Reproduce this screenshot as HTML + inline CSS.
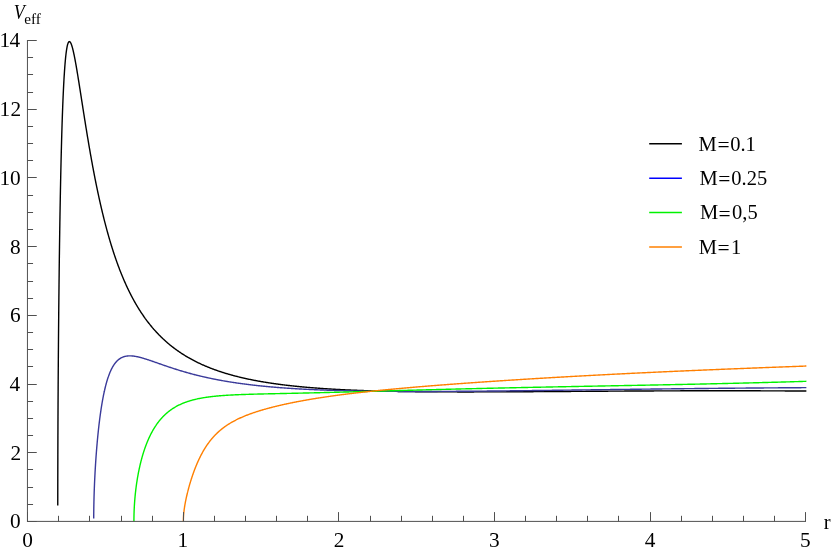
<!DOCTYPE html>
<html><head><meta charset="utf-8"><title>Veff</title>
<style>html,body{margin:0;padding:0;background:#fff}svg{display:block;will-change:transform}text{font-family:"Liberation Serif",serif;fill:#000}</style></head>
<body>
<svg width="831" height="552" viewBox="0 0 831 552">
<rect width="831" height="552" fill="#fff"/>
<text x="22.27" y="547.40" font-size="21.3">0</text>
<text x="177.62" y="547.40" font-size="21.3">1</text>
<text x="333.66" y="547.40" font-size="21.3">2</text>
<text x="489.01" y="547.40" font-size="21.3">3</text>
<text x="644.67" y="547.40" font-size="21.3">4</text>
<text x="800.08" y="547.40" font-size="21.3">5</text>
<text x="10.07" y="528.40" font-size="21.3">0</text>
<text x="10.45" y="459.69" font-size="21.3">2</text>
<text x="9.57" y="390.97" font-size="21.3">4</text>
<text x="9.95" y="322.26" font-size="21.3">6</text>
<text x="10.07" y="253.54" font-size="21.3">8</text>
<text x="10.07" y="184.83" font-size="21.3">0</text>
<text x="-0.55" y="184.83" font-size="21.3">1</text>
<text x="10.45" y="116.12" font-size="21.3">2</text>
<text x="-0.55" y="116.12" font-size="21.3">1</text>
<text x="9.57" y="47.40" font-size="21.3">4</text>
<text x="-0.55" y="47.40" font-size="21.3">1</text>
<text transform="translate(13.75,18.5) scale(0.9,1)" font-size="20" font-style="italic">V</text>
<text transform="translate(24.3,23.75) scale(1.04,1)" font-size="14.6">eff</text>
<text x="823.8" y="528.6" font-size="20.5">r</text>
<path d="M57.76,505.49 L57.76,504.16 L57.76,501.42 L57.77,498.64 L57.77,495.83 L57.77,493.00 L57.78,490.13 L57.78,487.25 L57.78,484.34 L57.79,481.41 L57.79,478.47 L57.80,475.50 L57.81,472.52 L57.81,469.52 L57.82,466.51 L57.83,463.49 L57.84,460.45 L57.84,457.39 L57.85,454.33 L57.86,451.25 L57.87,448.16 L57.88,445.06 L57.89,441.96 L57.90,438.84 L57.91,435.71 L57.93,432.57 L57.94,429.43 L57.95,426.27 L57.96,423.11 L57.98,419.95 L57.99,416.77 L58.01,413.59 L58.02,410.40 L58.04,407.21 L58.05,404.01 L58.07,400.80 L58.09,397.59 L58.11,394.38 L58.13,391.16 L58.14,387.94 L58.16,384.71 L58.18,381.48 L58.20,378.25 L58.22,375.01 L58.25,371.78 L58.27,368.53 L58.29,365.29 L58.31,362.05 L58.34,358.80 L58.36,355.56 L58.38,352.31 L58.41,349.06 L58.44,345.81 L58.46,342.57 L58.49,339.32 L58.51,336.07 L58.54,332.83 L58.57,329.58 L58.60,326.34 L58.63,323.10 L58.66,319.87 L58.69,316.63 L58.72,313.40 L58.75,310.17 L58.78,306.95 L58.82,303.73 L58.85,300.51 L58.88,297.30 L58.92,294.10 L58.95,290.90 L58.99,287.70 L59.02,284.52 L59.06,281.34 L59.10,278.16 L59.14,274.99 L59.17,271.84 L59.21,268.68 L59.25,265.54 L59.29,262.41 L59.33,259.28 L59.37,256.17 L59.42,253.06 L59.46,249.97 L59.50,246.89 L59.54,243.81 L59.59,240.75 L59.63,237.70 L59.68,234.66 L59.72,231.64 L59.77,228.63 L59.82,225.63 L59.86,222.65 L59.91,219.67 L59.96,216.72 L60.01,213.78 L60.06,210.85 L60.11,207.94 L60.16,205.05 L60.21,202.17 L60.27,199.31 L60.32,196.47 L60.37,193.64 L60.43,190.83 L60.48,188.04 L60.54,185.27 L60.59,182.52 L60.65,179.79 L60.71,177.07 L60.76,174.38 L60.82,171.71 L60.88,169.06 L60.94,166.43 L61.00,163.82 L61.06,161.23 L61.12,158.67 L61.19,156.12 L61.25,153.60 L61.31,151.11 L61.38,148.63 L61.44,146.18 L61.51,143.76 L61.57,141.36 L61.64,138.98 L61.71,136.63 L61.77,134.30 L61.84,132.00 L61.91,129.73 L61.98,127.48 L62.05,125.25 L62.12,123.06 L62.19,120.89 L62.27,118.74 L62.34,116.63 L62.41,114.54 L62.49,112.48 L62.56,110.45 L62.64,108.44 L62.71,106.47 L62.79,104.52 L62.86,102.60 L62.94,100.71 L63.02,98.85 L63.10,97.01 L63.18,95.21 L63.26,93.43 L63.34,91.69 L63.42,89.97 L63.51,88.29 L63.59,86.63 L63.67,85.01 L63.76,83.41 L63.84,81.85 L63.93,80.31 L64.01,78.81 L64.10,77.33 L64.19,75.89 L64.28,74.47 L64.37,73.09 L64.46,71.74 L64.55,70.41 L64.64,69.12 L64.73,67.86 L64.82,66.63 L64.91,65.43 L65.01,64.26 L65.10,63.12 L65.20,62.01 L65.29,60.94 L65.39,59.89 L65.48,58.87 L65.58,57.88 L65.68,56.93 L65.78,56.00 L65.88,55.10 L65.98,54.24 L66.08,53.40 L66.18,52.59 L66.28,51.82 L66.39,51.07 L66.49,50.35 L66.59,49.66 L66.70,49.01 L66.80,48.38 L66.91,47.78 L67.02,47.20 L67.12,46.66 L67.23,46.15 L67.34,45.66 L67.45,45.20 L67.56,44.77 L67.67,44.37 L67.90,43.65 L68.12,43.04 L68.35,42.53 L68.58,42.13 L68.94,41.73 L69.42,41.55 L69.91,41.77 L70.29,42.18 L70.54,42.56 L70.80,43.04 L71.06,43.60 L71.32,44.25 L71.59,44.98 L71.72,45.38 L71.86,45.80 L71.99,46.23 L72.13,46.69 L72.26,47.16 L72.40,47.66 L72.54,48.17 L72.68,48.70 L72.82,49.25 L72.96,49.81 L73.10,50.40 L73.24,51.00 L73.38,51.62 L73.53,52.25 L73.67,52.90 L73.81,53.57 L73.96,54.25 L74.10,54.95 L74.25,55.67 L74.40,56.40 L74.55,57.14 L74.69,57.90 L74.84,58.67 L74.99,59.46 L75.15,60.26 L75.30,61.08 L75.45,61.91 L75.60,62.75 L75.76,63.60 L75.91,64.47 L76.07,65.35 L76.22,66.24 L76.38,67.14 L76.54,68.05 L76.69,68.98 L76.85,69.91 L77.01,70.86 L77.17,71.82 L77.33,72.78 L77.49,73.76 L77.66,74.75 L77.82,75.74 L77.98,76.75 L78.15,77.77 L78.31,78.79 L78.48,79.82 L78.65,80.86 L78.81,81.91 L78.98,82.97 L79.15,84.03 L79.32,85.11 L79.49,86.19 L79.66,87.27 L79.83,88.37 L80.01,89.47 L80.18,90.57 L80.35,91.68 L80.53,92.80 L80.71,93.93 L80.88,95.06 L81.06,96.19 L81.24,97.34 L81.41,98.48 L81.59,99.63 L81.77,100.79 L81.95,101.95 L82.14,103.11 L82.32,104.28 L82.50,105.45 L82.69,106.63 L82.87,107.81 L83.05,108.99 L83.24,110.18 L83.43,111.37 L83.61,112.56 L83.80,113.76 L83.99,114.95 L84.18,116.15 L84.37,117.36 L84.56,118.56 L84.75,119.77 L84.95,120.98 L85.14,122.19 L85.33,123.40 L85.53,124.61 L85.73,125.83 L85.92,127.04 L86.12,128.26 L86.32,129.48 L86.52,130.69 L86.71,131.91 L86.91,133.13 L87.12,134.35 L87.32,135.57 L87.52,136.79 L87.72,138.01 L87.93,139.23 L88.13,140.45 L88.34,141.67 L88.54,142.89 L88.75,144.11 L88.96,145.32 L89.17,146.54 L89.37,147.76 L89.58,148.97 L89.80,150.18 L90.01,151.40 L90.22,152.61 L90.43,153.82 L90.65,155.03 L90.86,156.23 L91.08,157.44 L91.29,158.64 L91.51,159.84 L91.73,161.04 L91.94,162.24 L92.16,163.44 L92.38,164.63 L92.60,165.82 L92.82,167.01 L93.05,168.20 L93.27,169.38 L93.49,170.57 L93.72,171.75 L93.94,172.92 L94.17,174.10 L94.40,175.27 L94.62,176.44 L94.85,177.60 L95.08,178.77 L95.31,179.93 L95.54,181.08 L95.77,182.24 L96.00,183.39 L96.24,184.54 L96.47,185.68 L96.70,186.82 L96.94,187.96 L97.18,189.09 L97.41,190.22 L97.65,191.35 L97.89,192.48 L98.13,193.60 L98.37,194.71 L98.61,195.83 L98.85,196.94 L99.09,198.04 L99.33,199.14 L99.58,200.24 L99.82,201.34 L100.07,202.43 L100.31,203.52 L100.56,204.60 L100.81,205.68 L101.06,206.75 L101.30,207.82 L101.55,208.89 L101.81,209.95 L102.06,211.01 L102.31,212.07 L102.56,213.12 L102.82,214.17 L103.07,215.21 L103.33,216.25 L103.58,217.28 L103.84,218.31 L104.10,219.34 L104.35,220.36 L104.61,221.38 L104.87,222.39 L105.14,223.40 L105.40,224.41 L105.66,225.41 L105.92,226.41 L106.19,227.40 L106.45,228.39 L106.72,229.37 L106.98,230.35 L107.25,231.32 L107.52,232.29 L107.79,233.26 L108.06,234.22 L108.33,235.18 L108.60,236.13 L108.87,237.08 L109.14,238.03 L109.42,238.97 L109.69,239.90 L109.97,240.83 L110.24,241.76 L110.52,242.68 L110.80,243.60 L111.07,244.51 L111.35,245.42 L111.63,246.33 L111.91,247.23 L112.19,248.13 L112.48,249.02 L112.76,249.91 L113.04,250.79 L113.33,251.67 L113.61,252.54 L113.90,253.41 L114.19,254.28 L114.47,255.14 L114.76,256.00 L115.05,256.85 L115.34,257.70 L115.63,258.54 L115.93,259.38 L116.22,260.22 L116.51,261.05 L116.81,261.88 L117.10,262.70 L117.40,263.52 L117.69,264.33 L117.99,265.14 L118.29,265.95 L118.59,266.75 L118.89,267.54 L119.19,268.34 L119.49,269.13 L119.79,269.91 L120.09,270.69 L120.40,271.47 L120.70,272.24 L121.01,273.01 L121.31,273.77 L121.62,274.53 L121.93,275.29 L122.24,276.04 L122.55,276.79 L122.86,277.53 L123.17,278.27 L123.48,279.00 L123.79,279.73 L124.11,280.46 L124.42,281.19 L124.74,281.90 L125.05,282.62 L125.37,283.33 L125.69,284.04 L126.01,284.74 L126.32,285.44 L126.64,286.14 L126.97,286.83 L127.29,287.52 L127.61,288.20 L127.93,288.88 L128.26,289.56 L128.58,290.23 L128.91,290.90 L129.23,291.56 L129.56,292.22 L129.89,292.88 L130.22,293.53 L130.55,294.18 L130.88,294.83 L131.21,295.47 L131.54,296.11 L131.88,296.74 L132.21,297.38 L132.54,298.00 L132.88,298.63 L133.22,299.25 L133.55,299.86 L133.89,300.48 L134.23,301.09 L134.57,301.69 L134.91,302.30 L135.25,302.90 L135.59,303.49 L135.94,304.08 L136.28,304.67 L136.62,305.26 L136.97,305.84 L137.32,306.42 L137.66,306.99 L138.01,307.56 L138.36,308.13 L138.71,308.70 L139.06,309.26 L139.41,309.82 L139.76,310.37 L140.11,310.92 L140.47,311.47 L140.82,312.02 L141.18,312.56 L141.53,313.10 L141.89,313.63 L142.25,314.16 L142.61,314.69 L142.97,315.22 L143.33,315.74 L143.69,316.26 L144.05,316.78 L144.41,317.29 L144.78,317.80 L145.14,318.31 L145.51,318.81 L145.87,319.31 L146.24,319.81 L146.61,320.31 L146.98,320.80 L147.34,321.29 L147.71,321.78 L148.09,322.26 L148.46,322.74 L148.83,323.22 L149.20,323.69 L149.58,324.16 L149.95,324.63 L150.33,325.10 L150.71,325.56 L151.08,326.02 L151.46,326.48 L151.84,326.93 L152.22,327.39 L152.60,327.84 L152.99,328.28 L153.37,328.73 L153.75,329.17 L154.14,329.60 L154.52,330.04 L154.91,330.47 L155.29,330.90 L155.68,331.33 L156.07,331.76 L156.46,332.18 L156.85,332.60 L157.24,333.02 L157.63,333.43 L158.03,333.84 L158.42,334.25 L158.81,334.66 L159.21,335.06 L159.61,335.47 L160.00,335.87 L160.40,336.26 L160.80,336.66 L161.20,337.05 L161.60,337.44 L162.00,337.83 L162.40,338.21 L162.81,338.59 L163.21,338.98 L163.61,339.35 L164.02,339.73 L164.43,340.10 L164.83,340.47 L165.24,340.84 L165.65,341.21 L166.06,341.57 L166.47,341.93 L166.88,342.29 L167.29,342.65 L167.71,343.00 L168.12,343.36 L168.54,343.71 L168.95,344.06 L169.37,344.40 L169.78,344.75 L170.20,345.09 L170.62,345.43 L171.04,345.77 L171.46,346.10 L171.88,346.43 L172.31,346.77 L172.73,347.10 L173.15,347.42 L173.58,347.75 L174.00,348.07 L174.43,348.39 L174.86,348.71 L175.29,349.03 L175.72,349.34 L176.15,349.66 L176.58,349.97 L177.01,350.28 L177.44,350.58 L177.88,350.89 L178.31,351.19 L178.75,351.49 L179.18,351.79 L179.62,352.09 L180.06,352.39 L180.49,352.68 L180.93,352.97 L181.37,353.26 L181.82,353.55 L182.26,353.84 L182.70,354.12 L183.14,354.40 L183.59,354.68 L184.03,354.96 L184.48,355.24 L184.93,355.52 L185.38,355.79 L185.83,356.06 L186.27,356.33 L186.73,356.60 L187.18,356.87 L187.63,357.13 L188.08,357.40 L188.54,357.66 L188.99,357.92 L189.45,358.18 L189.90,358.43 L190.36,358.69 L190.82,358.94 L191.28,359.19 L191.74,359.44 L192.20,359.69 L192.66,359.94 L193.13,360.19 L193.59,360.43 L194.05,360.67 L194.52,360.91 L194.98,361.15 L195.45,361.39 L195.92,361.63 L196.39,361.86 L196.86,362.09 L197.33,362.33 L197.80,362.56 L198.27,362.78 L198.75,363.01 L199.22,363.24 L199.69,363.46 L200.17,363.68 L200.65,363.91 L201.12,364.13 L201.60,364.34 L202.08,364.56 L202.56,364.78 L203.04,364.99 L203.52,365.20 L204.01,365.41 L204.49,365.62 L204.98,365.83 L205.46,366.04 L205.95,366.25 L206.43,366.45 L206.92,366.65 L207.41,366.86 L207.90,367.06 L208.39,367.26 L208.88,367.45 L209.37,367.65 L209.87,367.85 L210.36,368.04 L210.86,368.23 L211.35,368.43 L211.85,368.62 L212.35,368.80 L212.84,368.99 L213.34,369.18 L213.84,369.36 L214.35,369.55 L214.85,369.73 L215.35,369.91 L215.85,370.09 L216.36,370.27 L216.86,370.45 L217.37,370.63 L217.88,370.80 L218.38,370.98 L218.89,371.15 L219.40,371.32 L219.91,371.49 L220.43,371.66 L220.94,371.83 L221.45,372.00 L221.97,372.17 L222.48,372.33 L223.00,372.50 L223.51,372.66 L224.03,372.82 L224.55,372.98 L225.07,373.14 L225.59,373.30 L226.11,373.46 L226.63,373.62 L227.16,373.77 L227.68,373.93 L228.20,374.08 L228.73,374.23 L229.26,374.39 L229.78,374.54 L230.31,374.69 L230.84,374.83 L231.37,374.98 L231.90,375.13 L232.43,375.27 L232.97,375.42 L233.50,375.56 L234.04,375.70 L234.57,375.84 L235.11,375.99 L235.64,376.12 L236.18,376.26 L236.72,376.40 L237.26,376.54 L237.80,376.67 L238.34,376.81 L238.89,376.94 L239.43,377.08 L239.97,377.21 L240.52,377.34 L241.06,377.47 L241.61,377.60 L242.16,377.73 L242.71,377.85 L243.26,377.98 L243.81,378.11 L244.36,378.23 L244.91,378.36 L245.46,378.48 L246.02,378.60 L246.57,378.72 L247.13,378.84 L247.69,378.96 L248.24,379.08 L248.80,379.20 L249.36,379.32 L249.92,379.43 L250.48,379.55 L251.04,379.66 L251.61,379.78 L252.17,379.89 L252.74,380.00 L253.30,380.11 L253.87,380.23 L254.44,380.34 L255.00,380.44 L255.57,380.55 L256.14,380.66 L256.71,380.77 L257.29,380.87 L257.86,380.98 L258.43,381.08 L259.01,381.19 L259.58,381.29 L260.16,381.39 L260.74,381.49 L261.31,381.59 L261.89,381.69 L262.47,381.79 L263.05,381.89 L263.64,381.99 L264.22,382.09 L264.80,382.18 L265.39,382.28 L265.97,382.37 L266.56,382.47 L267.14,382.56 L267.73,382.66 L268.32,382.75 L268.91,382.84 L269.50,382.93 L270.09,383.02 L270.69,383.11 L271.28,383.20 L271.87,383.29 L272.47,383.38 L273.07,383.46 L273.66,383.55 L274.26,383.63 L274.86,383.72 L275.46,383.80 L276.06,383.89 L276.66,383.97 L277.26,384.05 L277.87,384.13 L278.47,384.22 L279.08,384.30 L279.68,384.38 L280.29,384.46 L280.90,384.53 L281.51,384.61 L282.12,384.69 L282.73,384.77 L283.34,384.84 L283.95,384.92 L284.56,384.99 L285.18,385.07 L285.79,385.14 L286.41,385.22 L287.03,385.29 L287.64,385.36 L288.26,385.43 L288.88,385.50 L289.50,385.57 L290.12,385.64 L290.75,385.71 L291.37,385.78 L291.99,385.85 L292.62,385.92 L293.24,385.99 L293.87,386.05 L294.50,386.12 L295.13,386.18 L295.76,386.25 L296.39,386.31 L297.02,386.38 L297.65,386.44 L298.29,386.51 L298.92,386.57 L299.55,386.63 L300.19,386.69 L300.83,386.75 L301.47,386.81 L302.10,386.87 L302.74,386.93 L303.38,386.99 L304.03,387.05 L304.67,387.11 L305.31,387.17 L305.96,387.22 L306.60,387.28 L307.25,387.34 L307.89,387.39 L308.54,387.45 L309.19,387.50 L309.84,387.55 L310.49,387.61 L311.14,387.66 L311.80,387.71 L312.45,387.77 L313.10,387.82 L313.76,387.87 L314.41,387.92 L315.07,387.97 L315.73,388.02 L316.39,388.07 L317.05,388.12 L317.71,388.17 L318.37,388.22 L319.03,388.27 L319.70,388.31 L320.36,388.36 L321.03,388.41 L321.69,388.45 L322.36,388.50 L323.03,388.55 L323.70,388.59 L324.37,388.64 L325.04,388.68 L325.71,388.72 L326.38,388.77 L327.05,388.81 L327.73,388.85 L328.40,388.89 L329.08,388.94 L329.76,388.98 L330.44,389.02 L331.12,389.06 L331.80,389.10 L332.48,389.14 L333.16,389.18 L333.84,389.22 L334.52,389.26 L335.21,389.30 L335.89,389.33 L336.58,389.37 L337.27,389.41 L337.96,389.45 L338.65,389.48 L339.34,389.52 L340.03,389.55 L340.72,389.59 L341.41,389.63 L342.11,389.66 L342.80,389.69 L343.50,389.73 L344.19,389.76 L344.89,389.80 L345.59,389.83 L346.29,389.86 L346.99,389.89 L347.69,389.93 L348.39,389.96 L349.10,389.99 L349.80,390.02 L350.50,390.05 L351.21,390.08 L351.92,390.11 L352.62,390.14 L353.33,390.17 L354.04,390.20 L354.75,390.23 L355.47,390.26 L356.18,390.29 L356.89,390.31 L357.61,390.34 L358.32,390.37 L359.04,390.40 L359.75,390.42 L360.47,390.45 L361.19,390.47 L361.91,390.50 L362.63,390.53 L363.35,390.55 L364.08,390.58 L364.80,390.60 L365.52,390.62 L366.25,390.65 L366.97,390.67 L367.70,390.70 L368.43,390.72 L369.16,390.74 L369.89,390.76 L370.62,390.79 L371.35,390.81 L372.09,390.83 L372.82,390.85 L373.55,390.87 L374.29,390.90 L375.03,390.92 L375.76,390.94 L376.50,390.96 L377.24,390.98 L377.98,391.00 L378.72,391.02 L379.47,391.04 L380.21,391.05 L380.95,391.07 L381.70,391.09 L382.44,391.11 L383.19,391.13 L383.94,391.15 L384.69,391.16 L385.44,391.18 L386.19,391.20 L386.94,391.21 L387.69,391.23 L388.44,391.25 L389.20,391.26 L389.95,391.28 L390.71,391.29 L391.47,391.31 L392.23,391.32 L392.98,391.34 L393.74,391.35 L394.51,391.37 L395.27,391.38 L396.03,391.40 L396.79,391.41 L397.56,391.42 L398.32,391.44 L399.09,391.45 L399.86,391.46 L400.63,391.48 L401.40,391.49 L402.17,391.50 L402.94,391.51 L403.71,391.53 L404.48,391.54 L405.26,391.55 L406.03,391.56 L406.81,391.57 L407.59,391.58 L408.36,391.59 L409.14,391.60 L409.92,391.61 L410.70,391.62 L411.48,391.63 L412.27,391.64 L413.05,391.65 L413.84,391.66 L414.62,391.67 L415.41,391.68 L416.19,391.69 L416.98,391.70 L417.77,391.71 L418.56,391.72 L419.35,391.72 L420.14,391.73 L420.94,391.74 L421.73,391.75 L422.53,391.75 L423.32,391.76 L424.12,391.77 L424.92,391.78 L425.72,391.78 L426.52,391.79 L427.32,391.79 L428.12,391.80 L428.92,391.81 L429.72,391.81 L430.53,391.82 L431.33,391.82 L432.14,391.83 L432.95,391.83 L433.75,391.84 L434.56,391.85 L435.37,391.85 L436.18,391.85 L437.00,391.86 L437.81,391.86 L438.62,391.87 L439.44,391.87 L440.25,391.88 L441.07,391.88 L441.89,391.88 L442.71,391.89 L443.53,391.89 L444.35,391.89 L445.17,391.90 L445.99,391.90 L446.81,391.90 L447.64,391.90 L448.46,391.91 L449.29,391.91 L450.12,391.91 L450.94,391.91 L451.77,391.92 L452.60,391.92 L453.43,391.92 L454.27,391.92 L455.10,391.92 L455.93,391.92 L456.77,391.92 L457.60,391.93 L458.44,391.93 L459.28,391.93 L460.12,391.93 L460.96,391.93 L461.80,391.93 L462.64,391.93 L463.48,391.93 L464.32,391.93 L465.17,391.93 L466.01,391.93 L466.86,391.93 L467.71,391.93 L468.55,391.93 L469.40,391.93 L470.25,391.93 L471.10,391.93 L471.96,391.93 L472.81,391.93 L473.66,391.93 L474.52,391.92 L475.37,391.92 L476.23,391.92 L477.09,391.92 L477.95,391.92 L478.81,391.92 L479.67,391.92 L480.53,391.91 L481.39,391.91 L482.25,391.91 L483.12,391.91 L483.98,391.91 L484.85,391.90 L485.72,391.90 L486.59,391.90 L487.46,391.90 L488.33,391.89 L489.20,391.89 L490.07,391.89 L490.94,391.89 L491.82,391.88 L492.69,391.88 L493.57,391.88 L494.44,391.87 L495.32,391.87 L496.20,391.87 L497.08,391.86 L497.96,391.86 L498.84,391.86 L499.72,391.85 L500.61,391.85 L501.49,391.85 L502.38,391.84 L503.27,391.84 L504.15,391.83 L505.04,391.83 L505.93,391.83 L506.82,391.82 L507.71,391.82 L508.60,391.81 L509.50,391.81 L510.39,391.80 L511.29,391.80 L512.18,391.80 L513.08,391.79 L513.98,391.79 L514.88,391.78 L515.78,391.78 L516.68,391.77 L517.58,391.77 L518.48,391.76 L519.39,391.76 L520.29,391.75 L521.20,391.75 L522.10,391.74 L523.01,391.74 L523.92,391.73 L524.83,391.73 L525.74,391.72 L526.65,391.72 L527.57,391.71 L528.48,391.70 L529.39,391.70 L530.31,391.69 L531.23,391.69 L532.14,391.68 L533.06,391.68 L533.98,391.67 L534.90,391.67 L535.82,391.66 L536.74,391.65 L537.67,391.65 L538.59,391.64 L539.52,391.64 L540.44,391.63 L541.37,391.62 L542.30,391.62 L543.23,391.61 L544.16,391.61 L545.09,391.60 L546.02,391.59 L546.95,391.59 L547.89,391.58 L548.82,391.58 L549.76,391.57 L550.70,391.56 L551.63,391.56 L552.57,391.55 L553.51,391.54 L554.45,391.54 L555.39,391.53 L556.34,391.52 L557.28,391.52 L558.22,391.51 L559.17,391.51 L560.12,391.50 L561.06,391.49 L562.01,391.49 L562.96,391.48 L563.91,391.47 L564.86,391.47 L565.82,391.46 L566.77,391.45 L567.72,391.45 L568.68,391.44 L569.64,391.43 L570.59,391.43 L571.55,391.42 L572.51,391.41 L573.47,391.41 L574.43,391.40 L575.39,391.39 L576.36,391.39 L577.32,391.38 L578.29,391.37 L579.25,391.37 L580.22,391.36 L581.19,391.35 L582.16,391.35 L583.13,391.34 L584.10,391.33 L585.07,391.33 L586.04,391.32 L587.02,391.31 L587.99,391.31 L588.97,391.30 L589.94,391.30 L590.92,391.29 L591.90,391.28 L592.88,391.28 L593.86,391.27 L594.84,391.26 L595.83,391.26 L596.81,391.25 L597.79,391.24 L598.78,391.24 L599.77,391.23 L600.75,391.22 L601.74,391.22 L602.73,391.21 L603.72,391.20 L604.71,391.20 L605.71,391.19 L606.70,391.18 L607.69,391.18 L608.69,391.17 L609.69,391.17 L610.68,391.16 L611.68,391.15 L612.68,391.15 L613.68,391.14 L614.68,391.13 L615.69,391.13 L616.69,391.12 L617.69,391.12 L618.70,391.11 L619.70,391.10 L620.71,391.10 L621.72,391.09 L622.73,391.09 L623.74,391.08 L624.75,391.07 L625.76,391.07 L626.78,391.06 L627.79,391.06 L628.81,391.05 L629.82,391.05 L630.84,391.04 L631.86,391.03 L632.88,391.03 L633.90,391.02 L634.92,391.02 L635.94,391.01 L636.96,391.01 L637.99,391.00 L639.01,391.00 L640.04,390.99 L641.06,390.99 L642.09,390.98 L643.12,390.98 L644.15,390.97 L645.18,390.97 L646.21,390.96 L647.25,390.96 L648.28,390.95 L649.31,390.95 L650.35,390.94 L651.39,390.94 L652.43,390.93 L653.46,390.93 L654.50,390.92 L655.54,390.92 L656.59,390.91 L657.63,390.91 L658.67,390.90 L659.72,390.90 L660.76,390.89 L661.81,390.89 L662.86,390.89 L663.91,390.88 L664.96,390.88 L666.01,390.87 L667.06,390.87 L668.11,390.87 L669.16,390.86 L670.22,390.86 L671.28,390.85 L672.33,390.85 L673.39,390.85 L674.45,390.84 L675.51,390.84 L676.57,390.84 L677.63,390.83 L678.69,390.83 L679.76,390.83 L680.82,390.82 L681.89,390.82 L682.95,390.82 L684.02,390.82 L685.09,390.81 L686.16,390.81 L687.23,390.81 L688.30,390.80 L689.37,390.80 L690.45,390.80 L691.52,390.80 L692.60,390.80 L693.67,390.79 L694.75,390.79 L695.83,390.79 L696.91,390.79 L697.99,390.78 L699.07,390.78 L700.15,390.78 L701.24,390.78 L702.32,390.78 L703.41,390.78 L704.49,390.77 L705.58,390.77 L706.67,390.77 L707.76,390.77 L708.85,390.77 L709.94,390.77 L711.03,390.77 L712.13,390.77 L713.22,390.77 L714.32,390.77 L715.41,390.77 L716.51,390.76 L717.61,390.76 L718.71,390.76 L719.81,390.76 L720.91,390.76 L722.01,390.76 L723.11,390.76 L724.22,390.76 L725.32,390.76 L726.43,390.76 L727.54,390.77 L728.65,390.77 L729.76,390.77 L730.87,390.77 L731.98,390.77 L733.09,390.77 L734.20,390.77 L735.32,390.77 L736.43,390.77 L737.55,390.77 L738.67,390.78 L739.79,390.78 L740.91,390.78 L742.03,390.78 L743.15,390.78 L744.27,390.78 L745.39,390.79 L746.52,390.79 L747.64,390.79 L748.77,390.79 L749.90,390.80 L751.03,390.80 L752.15,390.80 L753.29,390.80 L754.42,390.81 L755.55,390.81 L756.68,390.81 L757.82,390.82 L758.95,390.82 L760.09,390.82 L761.23,390.83 L762.36,390.83 L763.50,390.83 L764.64,390.84 L765.79,390.84 L766.93,390.85 L768.07,390.85 L769.22,390.86 L770.36,390.86 L771.51,390.86 L772.66,390.87 L773.80,390.87 L774.95,390.88 L776.11,390.88 L777.26,390.89 L778.41,390.90 L779.56,390.90 L780.72,390.91 L781.87,390.91 L783.03,390.92 L784.19,390.92 L785.35,390.93 L786.51,390.94 L787.67,390.94 L788.83,390.95 L789.99,390.96 L791.15,390.96 L792.32,390.97 L793.48,390.98 L794.65,390.99 L795.82,390.99 L796.99,391.00 L798.16,391.01 L799.33,391.02 L800.50,391.02 L801.67,391.03 L802.85,391.04 L804.02,391.05 L805.20,391.06 L806.37,391.07" fill="none" stroke="#000000" stroke-width="1.4" stroke-linejoin="round"/>
<path d="M93.71,518.55 L93.71,517.71 L93.71,517.19 L93.72,516.66 L93.72,516.12 L93.72,515.58 L93.73,515.03 L93.73,514.49 L93.73,513.93 L93.74,513.37 L93.75,512.81 L93.75,512.25 L93.76,511.68 L93.76,511.11 L93.77,510.54 L93.78,509.96 L93.79,509.38 L93.79,508.80 L93.80,508.21 L93.81,507.63 L93.82,507.04 L93.83,506.45 L93.84,505.85 L93.85,505.26 L93.86,504.66 L93.88,504.06 L93.89,503.45 L93.90,502.85 L93.91,502.24 L93.93,501.63 L93.94,501.02 L93.96,500.41 L93.97,499.79 L93.99,499.17 L94.00,498.56 L94.02,497.94 L94.04,497.31 L94.05,496.69 L94.07,496.06 L94.09,495.44 L94.11,494.81 L94.13,494.18 L94.15,493.54 L94.17,492.91 L94.19,492.28 L94.21,491.64 L94.23,491.00 L94.26,490.36 L94.28,489.72 L94.30,489.07 L94.33,488.43 L94.35,487.78 L94.37,487.14 L94.40,486.49 L94.43,485.84 L94.45,485.19 L94.48,484.53 L94.51,483.88 L94.53,483.22 L94.56,482.57 L94.59,481.91 L94.62,481.25 L94.65,480.59 L94.68,479.92 L94.71,479.26 L94.74,478.60 L94.78,477.93 L94.81,477.26 L94.84,476.60 L94.88,475.93 L94.91,475.26 L94.95,474.59 L94.98,473.91 L95.02,473.24 L95.05,472.57 L95.09,471.89 L95.13,471.21 L95.17,470.54 L95.20,469.86 L95.24,469.18 L95.28,468.50 L95.32,467.82 L95.36,467.14 L95.41,466.45 L95.45,465.77 L95.49,465.09 L95.53,464.40 L95.58,463.72 L95.62,463.03 L95.67,462.35 L95.71,461.66 L95.76,460.97 L95.80,460.28 L95.85,459.59 L95.90,458.91 L95.95,458.22 L95.99,457.53 L96.04,456.84 L96.09,456.14 L96.14,455.45 L96.19,454.76 L96.25,454.07 L96.30,453.38 L96.35,452.69 L96.40,452.00 L96.46,451.30 L96.51,450.61 L96.57,449.92 L96.62,449.23 L96.68,448.54 L96.74,447.84 L96.79,447.15 L96.85,446.46 L96.91,445.77 L96.97,445.08 L97.03,444.39 L97.09,443.70 L97.15,443.01 L97.21,442.32 L97.27,441.63 L97.34,440.94 L97.40,440.25 L97.46,439.56 L97.53,438.88 L97.59,438.19 L97.66,437.51 L97.72,436.82 L97.79,436.14 L97.86,435.45 L97.93,434.77 L98.00,434.09 L98.07,433.41 L98.13,432.73 L98.21,432.05 L98.28,431.38 L98.35,430.70 L98.42,430.02 L98.49,429.35 L98.57,428.68 L98.64,428.01 L98.72,427.34 L98.79,426.67 L98.87,426.00 L98.94,425.34 L99.02,424.67 L99.10,424.01 L99.18,423.35 L99.26,422.69 L99.34,422.04 L99.42,421.38 L99.50,420.73 L99.58,420.08 L99.66,419.43 L99.74,418.78 L99.83,418.13 L99.91,417.49 L100.00,416.85 L100.08,416.21 L100.17,415.57 L100.25,414.94 L100.34,414.30 L100.43,413.67 L100.52,413.04 L100.61,412.42 L100.69,411.79 L100.79,411.17 L100.88,410.55 L100.97,409.94 L101.06,409.32 L101.15,408.71 L101.25,408.10 L101.34,407.50 L101.43,406.90 L101.53,406.30 L101.63,405.70 L101.72,405.10 L101.82,404.51 L101.92,403.92 L102.02,403.34 L102.12,402.75 L102.22,402.17 L102.32,401.60 L102.42,401.02 L102.52,400.45 L102.62,399.89 L102.72,399.32 L102.83,398.76 L102.93,398.20 L103.04,397.65 L103.14,397.09 L103.25,396.55 L103.36,396.00 L103.46,395.46 L103.57,394.92 L103.68,394.39 L103.79,393.86 L103.90,393.33 L104.01,392.80 L104.12,392.28 L104.24,391.77 L104.35,391.25 L104.46,390.74 L104.58,390.24 L104.69,389.73 L104.81,389.23 L104.92,388.74 L105.04,388.25 L105.16,387.76 L105.27,387.27 L105.39,386.79 L105.51,386.32 L105.63,385.84 L105.75,385.37 L105.88,384.91 L106.00,384.45 L106.12,383.99 L106.24,383.53 L106.37,383.08 L106.49,382.64 L106.62,382.19 L106.74,381.76 L106.87,381.32 L107.00,380.89 L107.13,380.46 L107.25,380.04 L107.38,379.62 L107.51,379.21 L107.64,378.80 L107.78,378.39 L107.91,377.99 L108.04,377.59 L108.17,377.19 L108.31,376.80 L108.44,376.41 L108.58,376.03 L108.72,375.65 L108.99,374.90 L109.27,374.17 L109.55,373.46 L109.83,372.76 L110.11,372.08 L110.40,371.41 L110.69,370.76 L110.99,370.12 L111.28,369.50 L111.58,368.90 L111.88,368.31 L112.19,367.74 L112.49,367.18 L112.80,366.64 L113.12,366.11 L113.43,365.60 L113.75,365.11 L114.07,364.62 L114.40,364.16 L114.72,363.71 L115.05,363.27 L115.38,362.85 L115.72,362.44 L116.06,362.04 L116.40,361.66 L116.74,361.29 L117.09,360.94 L117.44,360.60 L117.79,360.28 L118.14,359.96 L118.50,359.66 L118.86,359.38 L119.22,359.10 L119.59,358.84 L119.96,358.59 L120.33,358.36 L120.70,358.13 L121.08,357.92 L121.46,357.72 L121.84,357.53 L122.23,357.35 L122.62,357.18 L123.01,357.03 L123.41,356.88 L123.80,356.74 L124.20,356.62 L124.61,356.50 L125.01,356.40 L125.42,356.31 L125.83,356.22 L126.25,356.14 L126.67,356.08 L127.09,356.02 L127.51,355.97 L127.94,355.93 L128.37,355.90 L128.80,355.88 L129.23,355.86 L129.67,355.86 L130.11,355.86 L130.56,355.87 L131.01,355.88 L131.45,355.91 L131.91,355.94 L132.36,355.97 L132.82,356.02 L133.28,356.07 L133.75,356.13 L134.22,356.19 L134.69,356.26 L135.16,356.34 L135.64,356.42 L136.12,356.51 L136.60,356.60 L137.08,356.70 L137.57,356.80 L138.06,356.91 L138.56,357.02 L139.06,357.14 L139.56,357.26 L140.06,357.39 L140.57,357.52 L141.08,357.66 L141.59,357.80 L142.10,357.94 L142.62,358.09 L143.14,358.24 L143.67,358.40 L144.20,358.56 L144.73,358.72 L145.26,358.88 L145.80,359.05 L146.34,359.22 L146.88,359.40 L147.42,359.57 L147.97,359.75 L148.52,359.94 L149.08,360.12 L149.64,360.31 L150.20,360.50 L150.76,360.69 L151.33,360.88 L151.90,361.08 L152.47,361.28 L153.05,361.48 L153.63,361.68 L154.21,361.88 L154.80,362.09 L155.38,362.29 L155.98,362.50 L156.57,362.71 L157.17,362.92 L157.77,363.13 L158.37,363.34 L158.98,363.55 L159.59,363.77 L160.20,363.98 L160.82,364.20 L161.44,364.42 L162.06,364.63 L162.69,364.85 L163.31,365.07 L163.95,365.29 L164.58,365.51 L165.22,365.73 L165.86,365.95 L166.50,366.17 L167.15,366.39 L167.80,366.61 L168.46,366.83 L169.11,367.05 L169.77,367.27 L170.44,367.49 L171.10,367.71 L171.77,367.93 L172.44,368.15 L173.12,368.37 L173.80,368.59 L174.48,368.81 L175.17,369.03 L175.85,369.25 L176.55,369.47 L177.24,369.69 L177.94,369.90 L178.64,370.12 L179.34,370.34 L180.05,370.55 L180.76,370.77 L181.47,370.98 L182.19,371.20 L182.91,371.41 L183.63,371.62 L184.36,371.83 L185.09,372.04 L185.82,372.25 L186.56,372.46 L187.30,372.67 L188.04,372.88 L188.78,373.09 L189.53,373.29 L190.29,373.50 L191.04,373.70 L191.80,373.90 L192.56,374.11 L193.33,374.31 L194.09,374.51 L194.86,374.71 L195.64,374.90 L196.03,375.00 L196.42,375.10 L196.81,375.20 L197.20,375.30 L197.59,375.39 L197.98,375.49 L198.37,375.59 L198.77,375.68 L199.16,375.78 L199.56,375.88 L199.96,375.97 L200.35,376.07 L200.75,376.16 L201.15,376.26 L201.55,376.35 L201.95,376.44 L202.35,376.54 L202.75,376.63 L203.16,376.73 L203.56,376.82 L203.96,376.91 L204.37,377.00 L204.78,377.10 L205.18,377.19 L205.59,377.28 L206.00,377.37 L206.41,377.46 L206.82,377.55 L207.23,377.64 L207.64,377.73 L208.05,377.82 L208.47,377.91 L208.88,378.00 L209.30,378.09 L209.71,378.18 L210.13,378.26 L210.55,378.35 L210.97,378.44 L211.39,378.53 L211.81,378.61 L212.23,378.70 L212.65,378.79 L213.07,378.87 L213.49,378.96 L213.92,379.04 L214.34,379.13 L214.77,379.21 L215.20,379.30 L215.62,379.38 L216.05,379.46 L216.48,379.55 L216.91,379.63 L217.34,379.71 L217.77,379.79 L218.20,379.88 L218.64,379.96 L219.07,380.04 L219.51,380.12 L219.94,380.20 L220.38,380.28 L220.82,380.36 L221.25,380.44 L221.69,380.52 L222.13,380.60 L222.57,380.68 L223.01,380.76 L223.46,380.83 L223.90,380.91 L224.34,380.99 L224.79,381.07 L225.23,381.14 L225.68,381.22 L226.13,381.29 L226.57,381.37 L227.02,381.45 L227.47,381.52 L227.92,381.59 L228.37,381.67 L228.83,381.74 L229.28,381.82 L229.73,381.89 L230.19,381.96 L230.64,382.04 L231.10,382.11 L231.56,382.18 L232.01,382.25 L232.47,382.32 L232.93,382.39 L233.39,382.46 L233.85,382.53 L234.32,382.60 L234.78,382.67 L235.24,382.74 L235.71,382.81 L236.17,382.88 L236.64,382.95 L237.10,383.02 L237.57,383.08 L238.04,383.15 L238.51,383.22 L238.98,383.29 L239.45,383.35 L239.92,383.42 L240.40,383.48 L240.87,383.55 L241.34,383.61 L241.82,383.68 L242.30,383.74 L242.77,383.81 L243.25,383.87 L243.73,383.93 L244.21,384.00 L244.69,384.06 L245.17,384.12 L245.65,384.18 L246.14,384.25 L246.62,384.31 L247.10,384.37 L247.59,384.43 L248.07,384.49 L248.56,384.55 L249.05,384.61 L249.54,384.67 L250.03,384.73 L250.52,384.79 L251.01,384.85 L251.50,384.91 L251.99,384.96 L252.49,385.02 L252.98,385.08 L253.48,385.14 L253.97,385.19 L254.47,385.25 L254.97,385.30 L255.47,385.36 L255.97,385.42 L256.47,385.47 L256.97,385.53 L257.47,385.58 L257.97,385.63 L258.48,385.69 L258.98,385.74 L259.49,385.79 L259.99,385.85 L260.50,385.90 L261.01,385.95 L261.52,386.00 L262.03,386.06 L262.54,386.11 L263.05,386.16 L263.56,386.21 L264.07,386.26 L264.59,386.31 L265.10,386.36 L265.62,386.41 L266.14,386.46 L266.65,386.51 L267.17,386.56 L267.69,386.60 L268.21,386.65 L268.73,386.70 L269.25,386.75 L269.77,386.80 L270.30,386.84 L270.82,386.89 L271.35,386.94 L271.87,386.98 L272.40,387.03 L272.93,387.07 L273.45,387.12 L273.98,387.16 L274.51,387.21 L275.04,387.25 L275.58,387.30 L276.11,387.34 L276.64,387.38 L277.18,387.43 L277.71,387.47 L278.25,387.51 L278.78,387.55 L279.32,387.60 L279.86,387.64 L280.40,387.68 L280.94,387.72 L281.48,387.76 L282.02,387.80 L282.56,387.84 L283.11,387.88 L283.65,387.92 L284.20,387.96 L284.74,388.00 L285.29,388.04 L285.84,388.08 L286.39,388.12 L286.94,388.16 L287.49,388.19 L288.04,388.23 L288.59,388.27 L289.14,388.31 L289.70,388.34 L290.25,388.38 L290.81,388.41 L291.36,388.45 L291.92,388.49 L292.48,388.52 L293.04,388.56 L293.60,388.59 L294.16,388.63 L294.72,388.66 L295.28,388.70 L295.84,388.73 L296.41,388.76 L296.97,388.80 L297.54,388.83 L298.11,388.86 L298.67,388.90 L299.24,388.93 L299.81,388.96 L300.38,388.99 L300.95,389.02 L301.52,389.06 L302.10,389.09 L302.67,389.12 L303.24,389.15 L303.82,389.18 L304.40,389.21 L304.97,389.24 L305.55,389.27 L306.13,389.30 L306.71,389.33 L307.29,389.36 L307.87,389.39 L308.45,389.41 L309.04,389.44 L309.62,389.47 L310.20,389.50 L310.79,389.53 L311.38,389.55 L311.96,389.58 L312.55,389.61 L313.14,389.63 L313.73,389.66 L314.32,389.69 L314.91,389.71 L315.51,389.74 L316.10,389.76 L316.69,389.79 L317.29,389.81 L317.88,389.84 L318.48,389.86 L319.08,389.89 L319.68,389.91 L320.28,389.94 L320.88,389.96 L321.48,389.98 L322.08,390.01 L322.68,390.03 L323.29,390.05 L323.89,390.07 L324.50,390.10 L325.10,390.12 L325.71,390.14 L326.32,390.16 L326.93,390.18 L327.54,390.21 L328.15,390.23 L328.76,390.25 L329.37,390.27 L329.99,390.29 L330.60,390.31 L331.21,390.33 L331.83,390.35 L332.45,390.37 L333.06,390.39 L333.68,390.41 L334.30,390.43 L334.92,390.44 L335.54,390.46 L336.17,390.48 L336.79,390.50 L337.41,390.52 L338.04,390.54 L338.66,390.55 L339.29,390.57 L339.92,390.59 L340.54,390.61 L341.17,390.62 L341.80,390.64 L342.43,390.66 L343.07,390.67 L343.70,390.69 L344.33,390.70 L344.97,390.72 L345.60,390.73 L346.24,390.75 L346.87,390.77 L347.51,390.78 L348.15,390.80 L348.79,390.81 L349.43,390.82 L350.07,390.84 L350.71,390.85 L351.36,390.87 L352.00,390.88 L352.64,390.89 L353.29,390.91 L353.94,390.92 L354.58,390.93 L355.23,390.95 L355.88,390.96 L356.53,390.97 L357.18,390.98 L357.83,391.00 L358.49,391.01 L359.14,391.02 L359.79,391.03 L360.45,391.04 L361.11,391.05 L361.76,391.06 L362.42,391.08 L363.08,391.09 L363.74,391.10 L364.40,391.11 L365.06,391.12 L365.72,391.13 L366.39,391.14 L367.05,391.15 L367.72,391.16 L368.38,391.17 L369.05,391.18 L369.72,391.18 L370.38,391.19 L371.05,391.20 L371.72,391.21 L372.39,391.22 L373.07,391.23 L373.74,391.24 L374.41,391.24 L375.09,391.25 L375.76,391.26 L376.44,391.27 L377.12,391.27 L377.80,391.28 L378.47,391.29 L379.15,391.30 L379.83,391.30 L380.52,391.31 L381.20,391.32 L381.88,391.32 L382.57,391.33 L383.25,391.33 L383.94,391.34 L384.63,391.35 L385.31,391.35 L386.00,391.36 L386.69,391.36 L387.38,391.37 L388.07,391.37 L388.77,391.38 L389.46,391.38 L390.15,391.39 L390.85,391.39 L391.54,391.40 L392.24,391.40 L392.94,391.40 L393.64,391.41 L394.34,391.41 L395.04,391.42 L395.74,391.42 L396.44,391.42 L397.14,391.43 L397.85,391.43 L398.55,391.43 L399.26,391.44 L399.96,391.44 L400.67,391.44 L401.38,391.44 L402.09,391.45 L402.80,391.45 L403.51,391.45 L404.22,391.45 L404.94,391.45 L405.65,391.46 L406.36,391.46 L407.08,391.46 L407.80,391.46 L408.51,391.46 L409.23,391.46 L409.95,391.46 L410.67,391.47 L411.39,391.47 L412.11,391.47 L412.84,391.47 L413.56,391.47 L414.28,391.47 L415.01,391.47 L415.73,391.47 L416.46,391.47 L417.19,391.47 L417.92,391.47 L418.65,391.47 L419.38,391.47 L420.11,391.47 L420.84,391.47 L421.58,391.47 L422.31,391.46 L423.05,391.46 L423.78,391.46 L424.52,391.46 L425.26,391.46 L426.00,391.46 L426.73,391.46 L427.48,391.46 L428.22,391.45 L428.96,391.45 L429.70,391.45 L430.45,391.45 L431.19,391.45 L431.94,391.44 L432.68,391.44 L433.43,391.44 L434.18,391.44 L434.93,391.43 L435.68,391.43 L436.43,391.43 L437.18,391.43 L437.94,391.42 L438.69,391.42 L439.45,391.42 L440.20,391.41 L440.96,391.41 L441.72,391.41 L442.47,391.40 L443.23,391.40 L443.99,391.40 L444.76,391.39 L445.52,391.39 L446.28,391.38 L447.04,391.38 L447.81,391.38 L448.57,391.37 L449.34,391.37 L450.11,391.36 L450.88,391.36 L451.65,391.35 L452.42,391.35 L453.19,391.34 L453.96,391.34 L454.73,391.33 L455.51,391.33 L456.28,391.32 L457.06,391.32 L457.83,391.31 L458.61,391.31 L459.39,391.30 L460.17,391.30 L460.95,391.29 L461.73,391.29 L462.51,391.28 L463.29,391.27 L464.08,391.27 L464.86,391.26 L465.65,391.26 L466.44,391.25 L467.22,391.24 L468.01,391.24 L468.80,391.23 L469.59,391.23 L470.38,391.22 L471.17,391.21 L471.97,391.21 L472.76,391.20 L473.55,391.19 L474.35,391.19 L475.15,391.18 L475.94,391.17 L476.74,391.16 L477.54,391.16 L478.34,391.15 L479.14,391.14 L479.95,391.14 L480.75,391.13 L481.55,391.12 L482.36,391.11 L483.16,391.11 L483.97,391.10 L484.78,391.09 L485.58,391.08 L486.39,391.08 L487.20,391.07 L488.01,391.06 L488.83,391.05 L489.64,391.04 L490.45,391.04 L491.27,391.03 L492.08,391.02 L492.90,391.01 L493.72,391.00 L494.54,390.99 L495.35,390.99 L496.18,390.98 L497.00,390.97 L497.82,390.96 L498.64,390.95 L499.46,390.94 L500.29,390.93 L501.12,390.92 L501.94,390.92 L502.77,390.91 L503.60,390.90 L504.43,390.89 L505.26,390.88 L506.09,390.87 L506.92,390.86 L507.75,390.85 L508.59,390.84 L509.42,390.83 L510.26,390.82 L511.09,390.81 L511.93,390.81 L512.77,390.80 L513.61,390.79 L514.45,390.78 L515.29,390.77 L516.13,390.76 L516.98,390.75 L517.82,390.74 L518.66,390.73 L519.51,390.72 L520.36,390.71 L521.20,390.70 L522.05,390.69 L522.90,390.68 L523.75,390.67 L524.60,390.66 L525.46,390.65 L526.31,390.64 L527.16,390.63 L528.02,390.62 L528.87,390.61 L529.73,390.60 L530.59,390.59 L531.45,390.58 L532.31,390.57 L533.17,390.55 L534.03,390.54 L534.89,390.53 L535.75,390.52 L536.62,390.51 L537.48,390.50 L538.35,390.49 L539.22,390.48 L540.08,390.47 L540.95,390.46 L541.82,390.45 L542.69,390.44 L543.57,390.43 L544.44,390.42 L545.31,390.40 L546.19,390.39 L547.06,390.38 L547.94,390.37 L548.81,390.36 L549.69,390.35 L550.57,390.34 L551.45,390.33 L552.33,390.32 L553.21,390.30 L554.10,390.29 L554.98,390.28 L555.86,390.27 L556.75,390.26 L557.64,390.25 L558.52,390.24 L559.41,390.23 L560.30,390.21 L561.19,390.20 L562.08,390.19 L562.97,390.18 L563.87,390.17 L564.76,390.16 L565.65,390.15 L566.55,390.13 L567.45,390.12 L568.34,390.11 L569.24,390.10 L570.14,390.09 L571.04,390.08 L571.94,390.06 L572.84,390.05 L573.75,390.04 L574.65,390.03 L575.56,390.02 L576.46,390.01 L577.37,389.99 L578.28,389.98 L579.18,389.97 L580.09,389.96 L581.00,389.95 L581.91,389.94 L582.83,389.92 L583.74,389.91 L584.65,389.90 L585.57,389.89 L586.49,389.88 L587.40,389.86 L588.32,389.85 L589.24,389.84 L590.16,389.83 L591.08,389.82 L592.00,389.80 L592.92,389.79 L593.85,389.78 L594.77,389.77 L595.70,389.76 L596.62,389.75 L597.55,389.73 L598.48,389.72 L599.41,389.71 L600.34,389.70 L601.27,389.69 L602.20,389.67 L603.13,389.66 L604.07,389.65 L605.00,389.64 L605.94,389.63 L606.87,389.61 L607.81,389.60 L608.75,389.59 L609.69,389.58 L610.63,389.57 L611.57,389.55 L612.51,389.54 L613.45,389.53 L614.40,389.52 L615.34,389.51 L616.29,389.49 L617.23,389.48 L618.18,389.47 L619.13,389.46 L620.08,389.45 L621.03,389.43 L621.98,389.42 L622.93,389.41 L623.89,389.40 L624.84,389.39 L625.80,389.37 L626.75,389.36 L627.71,389.35 L628.67,389.34 L629.63,389.33 L630.59,389.31 L631.55,389.30 L632.51,389.29 L633.47,389.28 L634.44,389.27 L635.40,389.25 L636.37,389.24 L637.33,389.23 L638.30,389.22 L639.27,389.21 L640.24,389.19 L641.21,389.18 L642.18,389.17 L643.15,389.16 L644.12,389.15 L645.10,389.13 L646.07,389.12 L647.05,389.11 L648.02,389.10 L649.00,389.09 L649.98,389.08 L650.96,389.06 L651.94,389.05 L652.92,389.04 L653.90,389.03 L654.89,389.02 L655.87,389.01 L656.86,388.99 L657.84,388.98 L658.83,388.97 L659.82,388.96 L660.81,388.95 L661.80,388.94 L662.79,388.92 L663.78,388.91 L664.77,388.90 L665.76,388.89 L666.76,388.88 L667.76,388.87 L668.75,388.85 L669.75,388.84 L670.75,388.83 L671.75,388.82 L672.75,388.81 L673.75,388.80 L674.75,388.79 L675.75,388.78 L676.76,388.76 L677.76,388.75 L678.77,388.74 L679.77,388.73 L680.78,388.72 L681.79,388.71 L682.80,388.70 L683.81,388.69 L684.82,388.67 L685.84,388.66 L686.85,388.65 L687.86,388.64 L688.88,388.63 L689.90,388.62 L690.91,388.61 L691.93,388.60 L692.95,388.59 L693.97,388.58 L694.99,388.56 L696.01,388.55 L697.04,388.54 L698.06,388.53 L699.08,388.52 L700.11,388.51 L701.14,388.50 L702.16,388.49 L703.19,388.48 L704.22,388.47 L705.25,388.46 L706.28,388.45 L707.32,388.44 L708.35,388.43 L709.38,388.42 L710.42,388.41 L711.46,388.39 L712.49,388.38 L713.53,388.37 L714.57,388.36 L715.61,388.35 L716.65,388.34 L717.69,388.33 L718.74,388.32 L719.78,388.31 L720.82,388.30 L721.87,388.29 L722.92,388.28 L723.96,388.27 L725.01,388.26 L726.06,388.25 L727.11,388.24 L728.16,388.23 L729.22,388.22 L730.27,388.21 L731.32,388.20 L732.38,388.19 L733.44,388.19 L734.49,388.18 L735.55,388.17 L736.61,388.16 L737.67,388.15 L738.73,388.14 L739.79,388.13 L740.86,388.12 L741.92,388.11 L742.98,388.10 L744.05,388.09 L745.12,388.08 L746.18,388.07 L747.25,388.06 L748.32,388.05 L749.39,388.05 L750.46,388.04 L751.54,388.03 L752.61,388.02 L753.68,388.01 L754.76,388.00 L755.83,387.99 L756.91,387.98 L757.99,387.98 L759.07,387.97 L760.15,387.96 L761.23,387.95 L762.31,387.94 L763.39,387.93 L764.48,387.92 L765.56,387.92 L766.65,387.91 L767.74,387.90 L768.82,387.89 L769.91,387.88 L771.00,387.87 L772.09,387.87 L773.18,387.86 L774.28,387.85 L775.37,387.84 L776.46,387.84 L777.56,387.83 L778.65,387.82 L779.75,387.81 L780.85,387.80 L781.95,387.80 L783.05,387.79 L784.15,387.78 L785.25,387.77 L786.36,387.77 L787.46,387.76 L788.56,387.75 L789.67,387.74 L790.78,387.74 L791.88,387.73 L792.99,387.72 L794.10,387.72 L795.21,387.71 L796.32,387.70 L797.44,387.70 L798.55,387.69 L799.67,387.68 L800.78,387.68 L801.90,387.67 L803.01,387.66 L804.13,387.66 L805.25,387.65 L806.37,387.64" fill="none" stroke="#3a3a9a" stroke-width="1.4" stroke-linejoin="round"/>
<path d="M133.92,521.50 L133.92,521.05 L133.92,520.53 L133.92,519.99 L133.93,519.43 L133.93,518.86 L133.94,518.27 L133.95,517.67 L133.96,517.07 L133.97,516.45 L133.98,515.83 L133.99,515.21 L134.01,514.57 L134.02,513.94 L134.04,513.30 L134.06,512.65 L134.09,512.00 L134.11,511.34 L134.13,510.69 L134.16,510.02 L134.19,509.36 L134.22,508.69 L134.25,508.02 L134.29,507.35 L134.32,506.67 L134.36,505.99 L134.40,505.31 L134.44,504.63 L134.49,503.94 L134.53,503.25 L134.58,502.56 L134.63,501.87 L134.68,501.17 L134.73,500.48 L134.79,499.78 L134.85,499.08 L134.90,498.38 L134.97,497.68 L135.03,496.97 L135.09,496.27 L135.16,495.56 L135.23,494.86 L135.30,494.15 L135.37,493.44 L135.45,492.73 L135.53,492.02 L135.61,491.30 L135.69,490.59 L135.77,489.88 L135.86,489.16 L135.95,488.45 L136.04,487.73 L136.13,487.02 L136.22,486.30 L136.32,485.58 L136.42,484.87 L136.52,484.15 L136.62,483.43 L136.73,482.71 L136.84,482.00 L136.95,481.28 L137.06,480.56 L137.17,479.85 L137.29,479.13 L137.41,478.41 L137.53,477.69 L137.65,476.98 L137.78,476.26 L137.91,475.55 L138.04,474.83 L138.17,474.12 L138.30,473.41 L138.44,472.69 L138.58,471.98 L138.72,471.27 L138.87,470.56 L139.01,469.85 L139.16,469.14 L139.31,468.44 L139.47,467.73 L139.62,467.03 L139.78,466.33 L139.94,465.62 L140.10,464.93 L140.27,464.23 L140.43,463.53 L140.60,462.83 L140.78,462.14 L140.95,461.45 L141.13,460.76 L141.31,460.07 L141.49,459.39 L141.67,458.70 L141.86,458.02 L142.05,457.34 L142.24,456.66 L142.43,455.99 L142.63,455.32 L142.83,454.65 L143.03,453.98 L143.23,453.31 L143.44,452.65 L143.65,451.99 L143.86,451.33 L144.07,450.68 L144.29,450.03 L144.51,449.38 L144.73,448.73 L144.95,448.09 L145.18,447.45 L145.41,446.81 L145.64,446.18 L145.87,445.55 L146.11,444.92 L146.35,444.30 L146.59,443.68 L146.83,443.06 L147.08,442.45 L147.33,441.84 L147.58,441.23 L147.83,440.63 L148.09,440.03 L148.35,439.43 L148.61,438.84 L148.87,438.25 L149.14,437.67 L149.41,437.09 L149.68,436.51 L149.95,435.94 L150.23,435.37 L150.51,434.81 L150.79,434.25 L151.08,433.69 L151.36,433.14 L151.65,432.59 L151.94,432.05 L152.24,431.51 L152.54,430.97 L152.84,430.44 L153.14,429.91 L153.45,429.39 L153.75,428.87 L154.06,428.36 L154.38,427.85 L154.69,427.34 L155.01,426.84 L155.33,426.35 L155.66,425.85 L155.99,425.37 L156.31,424.88 L156.65,424.40 L156.98,423.93 L157.32,423.46 L157.66,423.00 L158.00,422.54 L158.35,422.08 L158.69,421.63 L159.05,421.18 L159.40,420.74 L159.75,420.30 L160.11,419.87 L160.48,419.44 L160.84,419.02 L161.21,418.60 L161.58,418.18 L161.95,417.77 L162.32,417.37 L162.70,416.97 L163.08,416.57 L163.46,416.18 L163.85,415.79 L164.24,415.41 L164.63,415.03 L165.03,414.66 L165.42,414.29 L165.82,413.92 L166.22,413.56 L166.63,413.21 L167.04,412.86 L167.45,412.51 L167.86,412.17 L168.28,411.83 L168.70,411.49 L169.12,411.17 L169.54,410.84 L169.97,410.52 L170.40,410.20 L170.83,409.89 L171.27,409.59 L171.71,409.28 L172.15,408.98 L172.59,408.69 L173.04,408.40 L173.49,408.11 L173.94,407.83 L174.40,407.55 L174.85,407.28 L175.32,407.01 L175.78,406.74 L176.25,406.48 L176.72,406.22 L177.19,405.97 L177.66,405.72 L178.14,405.47 L178.62,405.23 L179.10,404.99 L179.59,404.76 L180.08,404.53 L180.57,404.30 L181.07,404.08 L181.56,403.86 L182.07,403.64 L182.57,403.43 L183.07,403.22 L183.58,403.01 L184.10,402.81 L184.61,402.61 L185.13,402.42 L185.65,402.23 L186.17,402.04 L186.70,401.85 L187.23,401.67 L187.76,401.49 L188.30,401.32 L188.83,401.15 L189.37,400.98 L189.92,400.81 L190.46,400.65 L191.01,400.49 L191.57,400.34 L192.12,400.18 L192.68,400.03 L193.24,399.88 L193.80,399.74 L194.37,399.60 L194.94,399.46 L195.51,399.32 L196.09,399.19 L196.67,399.06 L197.25,398.93 L197.83,398.80 L198.42,398.68 L199.01,398.56 L199.60,398.44 L200.20,398.33 L200.80,398.21 L201.40,398.10 L202.01,397.99 L202.61,397.89 L203.23,397.78 L203.84,397.68 L204.46,397.58 L205.08,397.49 L205.70,397.39 L206.32,397.30 L206.95,397.21 L207.58,397.12 L208.22,397.03 L208.86,396.94 L209.50,396.86 L210.14,396.78 L210.79,396.70 L211.44,396.62 L212.09,396.55 L212.74,396.47 L213.40,396.40 L214.06,396.33 L214.73,396.26 L215.40,396.19 L216.07,396.13 L216.74,396.06 L217.42,396.00 L218.09,395.94 L218.78,395.88 L219.46,395.82 L220.15,395.76 L220.84,395.70 L221.54,395.65 L222.23,395.60 L222.93,395.54 L223.64,395.49 L224.34,395.44 L225.05,395.40 L225.77,395.35 L226.48,395.30 L227.20,395.26 L227.92,395.21 L228.65,395.17 L229.37,395.13 L230.10,395.09 L230.84,395.05 L231.57,395.01 L232.31,394.97 L233.06,394.93 L233.80,394.89 L234.55,394.86 L235.30,394.82 L236.06,394.79 L236.82,394.75 L237.58,394.72 L238.34,394.69 L239.11,394.66 L239.88,394.63 L240.65,394.60 L241.43,394.57 L242.21,394.54 L242.99,394.51 L243.78,394.48 L244.57,394.46 L245.36,394.43 L246.15,394.40 L246.95,394.38 L247.35,394.36 L247.75,394.35 L248.16,394.34 L248.56,394.33 L248.96,394.31 L249.36,394.30 L249.77,394.29 L250.18,394.28 L250.58,394.27 L250.99,394.25 L251.40,394.24 L251.81,394.23 L252.21,394.22 L252.62,394.21 L253.04,394.20 L253.45,394.18 L253.86,394.17 L254.27,394.16 L254.69,394.15 L255.10,394.14 L255.52,394.13 L255.93,394.12 L256.35,394.11 L256.77,394.10 L257.19,394.08 L257.61,394.07 L258.03,394.06 L258.45,394.05 L258.87,394.04 L259.29,394.03 L259.72,394.02 L260.14,394.01 L260.57,394.00 L260.99,393.99 L261.42,393.98 L261.85,393.97 L262.27,393.96 L262.70,393.95 L263.13,393.94 L263.56,393.93 L263.99,393.92 L264.43,393.91 L264.86,393.90 L265.29,393.89 L265.73,393.88 L266.16,393.87 L266.60,393.86 L267.04,393.85 L267.47,393.84 L267.91,393.83 L268.35,393.82 L268.79,393.81 L269.23,393.80 L269.67,393.79 L270.11,393.78 L270.56,393.77 L271.00,393.76 L271.45,393.75 L271.89,393.74 L272.34,393.73 L272.78,393.72 L273.23,393.71 L273.68,393.70 L274.13,393.69 L274.58,393.68 L275.03,393.68 L275.48,393.67 L275.93,393.66 L276.39,393.65 L276.84,393.64 L277.30,393.63 L277.75,393.62 L278.21,393.61 L278.66,393.60 L279.12,393.59 L279.58,393.58 L280.04,393.57 L280.50,393.56 L280.96,393.55 L281.42,393.54 L281.89,393.53 L282.35,393.52 L282.81,393.51 L283.28,393.50 L283.75,393.49 L284.21,393.48 L284.68,393.47 L285.15,393.46 L285.62,393.45 L286.09,393.44 L286.56,393.43 L287.03,393.42 L287.50,393.41 L287.97,393.40 L288.45,393.39 L288.92,393.38 L289.40,393.37 L289.87,393.36 L290.35,393.35 L290.83,393.34 L291.31,393.33 L291.79,393.32 L292.27,393.31 L292.75,393.30 L293.23,393.29 L293.71,393.28 L294.19,393.27 L294.68,393.26 L295.16,393.25 L295.65,393.23 L296.14,393.22 L296.62,393.21 L297.11,393.20 L297.60,393.19 L298.09,393.18 L298.58,393.17 L299.07,393.16 L299.56,393.15 L300.06,393.14 L300.55,393.13 L301.04,393.12 L301.54,393.10 L302.04,393.09 L302.53,393.08 L303.03,393.07 L303.53,393.06 L304.03,393.05 L304.53,393.04 L305.03,393.03 L305.53,393.01 L306.03,393.00 L306.54,392.99 L307.04,392.98 L307.54,392.97 L308.05,392.96 L308.56,392.94 L309.06,392.93 L309.57,392.92 L310.08,392.91 L310.59,392.90 L311.10,392.89 L311.61,392.87 L312.12,392.86 L312.64,392.85 L313.15,392.84 L313.67,392.83 L314.18,392.81 L314.70,392.80 L315.21,392.79 L315.73,392.78 L316.25,392.76 L316.77,392.75 L317.29,392.74 L317.81,392.73 L318.33,392.71 L318.85,392.70 L319.38,392.69 L319.90,392.68 L320.43,392.66 L320.95,392.65 L321.48,392.64 L322.01,392.62 L322.53,392.61 L323.06,392.60 L323.59,392.59 L324.12,392.57 L324.66,392.56 L325.19,392.55 L325.72,392.53 L326.25,392.52 L326.79,392.51 L327.33,392.49 L327.86,392.48 L328.40,392.47 L328.94,392.45 L329.48,392.44 L330.01,392.42 L330.56,392.41 L331.10,392.40 L331.64,392.38 L332.18,392.37 L332.72,392.36 L333.27,392.34 L333.81,392.33 L334.36,392.31 L334.91,392.30 L335.45,392.29 L336.00,392.27 L336.55,392.26 L337.10,392.24 L337.65,392.23 L338.21,392.21 L338.76,392.20 L339.31,392.19 L339.87,392.17 L340.42,392.16 L340.98,392.14 L341.53,392.13 L342.09,392.11 L342.65,392.10 L343.21,392.08 L343.77,392.07 L344.33,392.05 L344.89,392.04 L345.45,392.02 L346.01,392.01 L346.58,391.99 L347.14,391.98 L347.71,391.96 L348.28,391.95 L348.84,391.93 L349.41,391.92 L349.98,391.90 L350.55,391.89 L351.12,391.87 L351.69,391.86 L352.26,391.84 L352.84,391.83 L353.41,391.81 L353.98,391.80 L354.56,391.78 L355.14,391.76 L355.71,391.75 L356.29,391.73 L356.87,391.72 L357.45,391.70 L358.03,391.69 L358.61,391.67 L359.19,391.65 L359.78,391.64 L360.36,391.62 L360.94,391.61 L361.53,391.59 L362.11,391.58 L362.70,391.56 L363.29,391.54 L363.88,391.53 L364.47,391.51 L365.06,391.49 L365.65,391.48 L366.24,391.46 L366.83,391.45 L367.43,391.43 L368.02,391.41 L368.62,391.40 L369.21,391.38 L369.81,391.36 L370.41,391.35 L371.00,391.33 L371.60,391.31 L372.20,391.30 L372.80,391.28 L373.41,391.26 L374.01,391.25 L374.61,391.23 L375.22,391.22 L375.82,391.20 L376.43,391.18 L377.03,391.16 L377.64,391.15 L378.25,391.13 L378.86,391.11 L379.47,391.10 L380.08,391.08 L380.69,391.06 L381.30,391.05 L381.92,391.03 L382.53,391.01 L383.15,391.00 L383.76,390.98 L384.38,390.96 L385.00,390.94 L385.61,390.93 L386.23,390.91 L386.85,390.89 L387.47,390.88 L388.10,390.86 L388.72,390.84 L389.34,390.82 L389.97,390.81 L390.59,390.79 L391.22,390.77 L391.84,390.76 L392.47,390.74 L393.10,390.72 L393.73,390.70 L394.36,390.69 L394.99,390.67 L395.62,390.65 L396.25,390.63 L396.89,390.62 L397.52,390.60 L398.15,390.58 L398.79,390.56 L399.43,390.55 L400.06,390.53 L400.70,390.51 L401.34,390.49 L401.98,390.48 L402.62,390.46 L403.26,390.44 L403.91,390.42 L404.55,390.41 L405.19,390.39 L405.84,390.37 L406.48,390.35 L407.13,390.34 L407.78,390.32 L408.43,390.30 L409.08,390.28 L409.73,390.27 L410.38,390.25 L411.03,390.23 L411.68,390.21 L412.33,390.20 L412.99,390.18 L413.64,390.16 L414.30,390.14 L414.95,390.12 L415.61,390.11 L416.27,390.09 L416.93,390.07 L417.59,390.05 L418.25,390.04 L418.91,390.02 L419.57,390.00 L420.24,389.98 L420.90,389.97 L421.57,389.95 L422.23,389.93 L422.90,389.91 L423.57,389.89 L424.24,389.88 L424.90,389.86 L425.57,389.84 L426.25,389.82 L426.92,389.81 L427.59,389.79 L428.26,389.77 L428.94,389.75 L429.61,389.74 L430.29,389.72 L430.97,389.70 L431.64,389.68 L432.32,389.66 L433.00,389.65 L433.68,389.63 L434.36,389.61 L435.04,389.59 L435.73,389.58 L436.41,389.56 L437.09,389.54 L437.78,389.52 L438.47,389.50 L439.15,389.49 L439.84,389.47 L440.53,389.45 L441.22,389.43 L441.91,389.42 L442.60,389.40 L443.29,389.38 L443.98,389.36 L444.68,389.35 L445.37,389.33 L446.07,389.31 L446.76,389.29 L447.46,389.27 L448.16,389.26 L448.86,389.24 L449.56,389.22 L450.26,389.20 L450.96,389.19 L451.66,389.17 L452.36,389.15 L453.07,389.13 L453.77,389.12 L454.48,389.10 L455.18,389.08 L455.89,389.06 L456.60,389.05 L457.31,389.03 L458.02,389.01 L458.73,388.99 L459.44,388.98 L460.15,388.96 L460.87,388.94 L461.58,388.92 L462.29,388.91 L463.01,388.89 L463.73,388.87 L464.44,388.85 L465.16,388.84 L465.88,388.82 L466.60,388.80 L467.32,388.78 L468.04,388.77 L468.77,388.75 L469.49,388.73 L470.21,388.72 L470.94,388.70 L471.67,388.68 L472.39,388.66 L473.12,388.65 L473.85,388.63 L474.58,388.61 L475.31,388.59 L476.04,388.58 L476.77,388.56 L477.50,388.54 L478.24,388.53 L478.97,388.51 L479.71,388.49 L480.44,388.47 L481.18,388.46 L481.92,388.44 L482.66,388.42 L483.40,388.41 L484.14,388.39 L484.88,388.37 L485.62,388.35 L486.36,388.34 L487.11,388.32 L487.85,388.30 L488.60,388.29 L489.34,388.27 L490.09,388.25 L490.84,388.24 L491.59,388.22 L492.34,388.20 L493.09,388.18 L493.84,388.17 L494.59,388.15 L495.34,388.13 L496.10,388.12 L496.85,388.10 L497.61,388.08 L498.37,388.07 L499.12,388.05 L499.88,388.03 L500.64,388.02 L501.40,388.00 L502.16,387.98 L502.92,387.97 L503.69,387.95 L504.45,387.93 L505.22,387.92 L505.98,387.90 L506.75,387.88 L507.51,387.87 L508.28,387.85 L509.05,387.83 L509.82,387.82 L510.59,387.80 L511.36,387.78 L512.13,387.77 L512.91,387.75 L513.68,387.73 L514.46,387.72 L515.23,387.70 L516.01,387.68 L516.78,387.67 L517.56,387.65 L518.34,387.63 L519.12,387.62 L519.90,387.60 L520.68,387.58 L521.47,387.57 L522.25,387.55 L523.03,387.53 L523.82,387.52 L524.61,387.50 L525.39,387.49 L526.18,387.47 L526.97,387.45 L527.76,387.44 L528.55,387.42 L529.34,387.40 L530.13,387.39 L530.92,387.37 L531.72,387.35 L532.51,387.34 L533.31,387.32 L534.10,387.31 L534.90,387.29 L535.70,387.27 L536.50,387.26 L537.30,387.24 L538.10,387.22 L538.90,387.21 L539.70,387.19 L540.51,387.18 L541.31,387.16 L542.11,387.14 L542.92,387.13 L543.73,387.11 L544.53,387.10 L545.34,387.08 L546.15,387.06 L546.96,387.05 L547.77,387.03 L548.59,387.01 L549.40,387.00 L550.21,386.98 L551.03,386.97 L551.84,386.95 L552.66,386.93 L553.48,386.92 L554.29,386.90 L555.11,386.89 L555.93,386.87 L556.75,386.85 L557.57,386.84 L558.40,386.82 L559.22,386.81 L560.04,386.79 L560.87,386.77 L561.69,386.76 L562.52,386.74 L563.35,386.73 L564.18,386.71 L565.01,386.69 L565.84,386.68 L566.67,386.66 L567.50,386.64 L568.33,386.63 L569.17,386.61 L570.00,386.60 L570.84,386.58 L571.67,386.56 L572.51,386.55 L573.35,386.53 L574.19,386.52 L575.03,386.50 L575.87,386.48 L576.71,386.47 L577.55,386.45 L578.39,386.44 L579.24,386.42 L580.08,386.40 L580.93,386.39 L581.78,386.37 L582.62,386.36 L583.47,386.34 L584.32,386.32 L585.17,386.31 L586.02,386.29 L586.87,386.28 L587.73,386.26 L588.58,386.24 L589.44,386.23 L590.29,386.21 L591.15,386.19 L592.00,386.18 L592.86,386.16 L593.72,386.15 L594.58,386.13 L595.44,386.11 L596.30,386.10 L597.17,386.08 L598.03,386.07 L598.89,386.05 L599.76,386.03 L600.63,386.02 L601.49,386.00 L602.36,385.98 L603.23,385.97 L604.10,385.95 L604.97,385.93 L605.84,385.92 L606.71,385.90 L607.59,385.89 L608.46,385.87 L609.33,385.85 L610.21,385.84 L611.09,385.82 L611.96,385.80 L612.84,385.79 L613.72,385.77 L614.60,385.75 L615.48,385.74 L616.36,385.72 L617.25,385.70 L618.13,385.69 L619.01,385.67 L619.90,385.65 L620.79,385.64 L621.67,385.62 L622.56,385.60 L623.45,385.59 L624.34,385.57 L625.23,385.55 L626.12,385.54 L627.01,385.52 L627.91,385.50 L628.80,385.49 L629.70,385.47 L630.59,385.45 L631.49,385.44 L632.39,385.42 L633.29,385.40 L634.19,385.38 L635.09,385.37 L635.99,385.35 L636.89,385.33 L637.79,385.32 L638.70,385.30 L639.60,385.28 L640.51,385.26 L641.41,385.25 L642.32,385.23 L643.23,385.21 L644.14,385.19 L645.05,385.18 L645.96,385.16 L646.87,385.14 L647.78,385.12 L648.70,385.11 L649.61,385.09 L650.53,385.07 L651.44,385.05 L652.36,385.04 L653.28,385.02 L654.20,385.00 L655.12,384.98 L656.04,384.96 L656.96,384.95 L657.88,384.93 L658.81,384.91 L659.73,384.89 L660.65,384.87 L661.58,384.85 L662.51,384.84 L663.44,384.82 L664.36,384.80 L665.29,384.78 L666.22,384.76 L667.16,384.74 L668.09,384.73 L669.02,384.71 L669.96,384.69 L670.89,384.67 L671.83,384.65 L672.76,384.63 L673.70,384.61 L674.64,384.59 L675.58,384.57 L676.52,384.56 L677.46,384.54 L678.40,384.52 L679.34,384.50 L680.29,384.48 L681.23,384.46 L682.18,384.44 L683.12,384.42 L684.07,384.40 L685.02,384.38 L685.97,384.36 L686.92,384.34 L687.87,384.32 L688.82,384.30 L689.77,384.28 L690.73,384.26 L691.68,384.24 L692.64,384.22 L693.59,384.20 L694.55,384.18 L695.51,384.16 L696.47,384.14 L697.43,384.12 L698.39,384.10 L699.35,384.08 L700.31,384.06 L701.28,384.04 L702.24,384.02 L703.21,384.00 L704.17,383.97 L705.14,383.95 L706.11,383.93 L707.08,383.91 L708.05,383.89 L709.02,383.87 L709.99,383.85 L710.96,383.82 L711.93,383.80 L712.91,383.78 L713.88,383.76 L714.86,383.74 L715.83,383.72 L716.81,383.69 L717.79,383.67 L718.77,383.65 L719.75,383.63 L720.73,383.60 L721.71,383.58 L722.70,383.56 L723.68,383.54 L724.67,383.51 L725.65,383.49 L726.64,383.47 L727.63,383.44 L728.61,383.42 L729.60,383.40 L730.59,383.37 L731.59,383.35 L732.58,383.33 L733.57,383.30 L734.56,383.28 L735.56,383.26 L736.55,383.23 L737.55,383.21 L738.55,383.18 L739.55,383.16 L740.55,383.14 L741.55,383.11 L742.55,383.09 L743.55,383.06 L744.55,383.04 L745.56,383.01 L746.56,382.99 L747.57,382.96 L748.57,382.94 L749.58,382.91 L750.59,382.89 L751.60,382.86 L752.61,382.83 L753.62,382.81 L754.63,382.78 L755.64,382.76 L756.66,382.73 L757.67,382.70 L758.69,382.68 L759.70,382.65 L760.72,382.62 L761.74,382.60 L762.76,382.57 L763.78,382.54 L764.80,382.52 L765.82,382.49 L766.84,382.46 L767.87,382.43 L768.89,382.41 L769.92,382.38 L770.94,382.35 L771.97,382.32 L773.00,382.29 L774.03,382.27 L775.06,382.24 L776.09,382.21 L777.12,382.18 L778.15,382.15 L779.18,382.12 L780.22,382.09 L781.25,382.06 L782.29,382.04 L783.33,382.01 L784.37,381.98 L785.40,381.95 L786.44,381.92 L787.48,381.89 L788.53,381.86 L789.57,381.83 L790.61,381.80 L791.66,381.76 L792.70,381.73 L793.75,381.70 L794.80,381.67 L795.84,381.64 L796.89,381.61 L797.94,381.58 L798.99,381.55 L800.04,381.51 L801.10,381.48 L802.15,381.45 L803.20,381.42 L804.26,381.38 L805.32,381.35 L806.37,381.32" fill="none" stroke="#00f200" stroke-width="1.4" stroke-linejoin="round"/>
<path d="M183.35,521.50 L183.35,521.00 L183.36,520.57 L183.36,520.12 L183.37,519.65 L183.38,519.18 L183.40,518.69 L183.42,518.20 L183.44,517.70 L183.46,517.19 L183.49,516.68 L183.52,516.15 L183.56,515.62 L183.60,515.09 L183.64,514.55 L183.69,514.00 L183.74,513.45 L183.80,512.89 L183.85,512.32 L183.92,511.75 L183.98,511.17 L184.05,510.59 L184.13,510.00 L184.18,509.60 L184.23,509.20 L184.29,508.80 L184.35,508.39 L184.41,507.98 L184.47,507.57 L184.53,507.15 L184.60,506.73 L184.66,506.31 L184.73,505.89 L184.80,505.46 L184.88,505.03 L184.95,504.59 L185.03,504.15 L185.11,503.71 L185.19,503.27 L185.27,502.82 L185.35,502.37 L185.44,501.92 L185.53,501.46 L185.62,501.00 L185.71,500.54 L185.81,500.07 L185.90,499.60 L186.00,499.13 L186.10,498.65 L186.21,498.17 L186.31,497.69 L186.42,497.21 L186.53,496.72 L186.64,496.23 L186.75,495.73 L186.87,495.23 L186.98,494.73 L187.10,494.23 L187.23,493.72 L187.35,493.21 L187.48,492.70 L187.60,492.18 L187.73,491.66 L187.87,491.14 L188.00,490.61 L188.14,490.09 L188.28,489.56 L188.42,489.02 L188.56,488.49 L188.70,487.95 L188.85,487.41 L189.00,486.87 L189.15,486.32 L189.31,485.78 L189.46,485.23 L189.62,484.67 L189.78,484.12 L189.95,483.57 L190.11,483.01 L190.28,482.45 L190.45,481.89 L190.62,481.33 L190.79,480.76 L190.97,480.20 L191.15,479.63 L191.33,479.06 L191.51,478.49 L191.70,477.92 L191.88,477.35 L192.07,476.77 L192.27,476.20 L192.46,475.63 L192.66,475.05 L192.86,474.47 L193.06,473.90 L193.26,473.32 L193.47,472.74 L193.68,472.17 L193.89,471.59 L194.10,471.01 L194.31,470.43 L194.53,469.86 L194.75,469.28 L194.97,468.70 L195.20,468.12 L195.43,467.55 L195.65,466.97 L195.89,466.40 L196.12,465.82 L196.36,465.25 L196.59,464.68 L196.84,464.11 L197.08,463.54 L197.32,462.97 L197.57,462.40 L197.82,461.84 L198.08,461.27 L198.33,460.71 L198.59,460.15 L198.85,459.59 L199.11,459.03 L199.38,458.48 L199.64,457.92 L199.91,457.37 L200.19,456.82 L200.46,456.28 L200.74,455.73 L201.02,455.19 L201.30,454.65 L201.58,454.11 L201.87,453.58 L202.16,453.05 L202.45,452.52 L202.74,451.99 L203.04,451.47 L203.34,450.95 L203.64,450.43 L203.95,449.91 L204.25,449.40 L204.56,448.89 L204.87,448.39 L205.19,447.88 L205.50,447.38 L205.82,446.89 L206.14,446.40 L206.47,445.91 L206.79,445.42 L207.12,444.94 L207.45,444.46 L207.79,443.98 L208.12,443.51 L208.46,443.04 L208.80,442.58 L209.15,442.12 L209.49,441.66 L209.84,441.20 L210.19,440.75 L210.55,440.31 L210.90,439.86 L211.26,439.42 L211.62,438.99 L211.99,438.55 L212.35,438.13 L212.72,437.70 L213.09,437.28 L213.47,436.86 L213.84,436.45 L214.22,436.04 L214.60,435.63 L214.99,435.23 L215.38,434.83 L215.77,434.43 L216.16,434.04 L216.55,433.65 L216.95,433.26 L217.35,432.88 L217.75,432.51 L218.16,432.13 L218.56,431.76 L218.97,431.39 L219.39,431.03 L219.80,430.67 L220.22,430.31 L220.64,429.96 L221.06,429.61 L221.49,429.26 L221.92,428.92 L222.35,428.58 L222.78,428.24 L223.22,427.91 L223.66,427.58 L224.10,427.25 L224.54,426.92 L224.99,426.60 L225.44,426.29 L225.89,425.97 L226.34,425.66 L226.80,425.35 L227.26,425.04 L227.72,424.74 L228.19,424.44 L228.66,424.14 L229.13,423.85 L229.60,423.56 L230.08,423.27 L230.55,422.98 L231.03,422.70 L231.52,422.42 L232.00,422.14 L232.49,421.86 L232.99,421.59 L233.48,421.32 L233.98,421.05 L234.48,420.78 L234.98,420.52 L235.48,420.26 L235.99,420.00 L236.50,419.74 L237.02,419.49 L237.53,419.23 L238.05,418.98 L238.57,418.73 L239.09,418.49 L239.62,418.24 L240.15,418.00 L240.68,417.76 L241.22,417.52 L241.75,417.29 L242.29,417.05 L242.84,416.82 L243.38,416.59 L243.93,416.36 L244.48,416.13 L245.04,415.91 L245.59,415.68 L246.15,415.46 L246.71,415.24 L247.28,415.02 L247.84,414.80 L248.42,414.58 L248.99,414.37 L249.56,414.16 L250.14,413.95 L250.72,413.73 L251.31,413.53 L251.89,413.32 L252.48,413.11 L253.07,412.91 L253.67,412.70 L254.27,412.50 L254.87,412.30 L255.47,412.10 L256.08,411.90 L256.68,411.70 L257.30,411.51 L257.91,411.31 L258.53,411.12 L259.15,410.93 L259.77,410.73 L260.39,410.54 L261.02,410.35 L261.65,410.16 L262.29,409.98 L262.92,409.79 L263.56,409.60 L264.20,409.42 L264.85,409.24 L265.50,409.05 L266.15,408.87 L266.80,408.69 L267.46,408.51 L268.11,408.33 L268.78,408.15 L269.44,407.98 L270.11,407.80 L270.78,407.62 L271.45,407.45 L272.13,407.28 L272.80,407.10 L273.48,406.93 L274.17,406.76 L274.86,406.59 L275.55,406.42 L276.24,406.25 L276.93,406.08 L277.63,405.91 L278.33,405.75 L279.04,405.58 L279.74,405.41 L280.45,405.25 L281.16,405.08 L281.88,404.92 L282.60,404.76 L283.32,404.60 L284.04,404.44 L284.77,404.28 L285.50,404.12 L286.23,403.96 L286.97,403.80 L287.70,403.64 L288.44,403.48 L289.19,403.33 L289.93,403.17 L290.68,403.02 L291.44,402.86 L292.19,402.71 L292.95,402.55 L293.71,402.40 L294.47,402.25 L295.24,402.10 L296.01,401.95 L296.78,401.80 L297.56,401.65 L298.34,401.50 L299.12,401.35 L299.90,401.20 L300.69,401.06 L301.08,400.98 L301.48,400.91 L301.87,400.84 L302.27,400.77 L302.67,400.69 L303.06,400.62 L303.46,400.55 L303.86,400.48 L304.26,400.40 L304.66,400.33 L305.07,400.26 L305.47,400.19 L305.87,400.12 L306.28,400.05 L306.68,399.98 L307.09,399.90 L307.49,399.83 L307.90,399.76 L308.31,399.69 L308.71,399.62 L309.12,399.55 L309.53,399.48 L309.94,399.41 L310.35,399.34 L310.77,399.27 L311.18,399.20 L311.59,399.13 L312.01,399.06 L312.42,399.00 L312.84,398.93 L313.25,398.86 L313.67,398.79 L314.09,398.72 L314.51,398.65 L314.92,398.58 L315.34,398.52 L315.77,398.45 L316.19,398.38 L316.61,398.31 L317.03,398.25 L317.46,398.18 L317.88,398.11 L318.30,398.04 L318.73,397.98 L319.16,397.91 L319.58,397.84 L320.01,397.78 L320.44,397.71 L320.87,397.65 L321.30,397.58 L321.73,397.51 L322.16,397.45 L322.59,397.38 L323.03,397.32 L323.46,397.25 L323.90,397.19 L324.33,397.12 L324.77,397.06 L325.20,396.99 L325.64,396.93 L326.08,396.86 L326.52,396.80 L326.96,396.73 L327.40,396.67 L327.84,396.60 L328.28,396.54 L328.72,396.48 L329.17,396.41 L329.61,396.35 L330.06,396.29 L330.50,396.22 L330.95,396.16 L331.39,396.10 L331.84,396.03 L332.29,395.97 L332.74,395.91 L333.19,395.85 L333.64,395.78 L334.09,395.72 L334.54,395.66 L335.00,395.60 L335.45,395.54 L335.91,395.47 L336.36,395.41 L336.82,395.35 L337.27,395.29 L337.73,395.23 L338.19,395.17 L338.65,395.11 L339.11,395.05 L339.57,394.98 L340.03,394.92 L340.49,394.86 L340.95,394.80 L341.42,394.74 L341.88,394.68 L342.35,394.62 L342.81,394.56 L343.28,394.50 L343.74,394.44 L344.21,394.38 L344.68,394.32 L345.15,394.27 L345.62,394.21 L346.09,394.15 L346.56,394.09 L347.03,394.03 L347.51,393.97 L347.98,393.91 L348.45,393.85 L348.93,393.80 L349.41,393.74 L349.88,393.68 L350.36,393.62 L350.84,393.56 L351.32,393.50 L351.80,393.45 L352.28,393.39 L352.76,393.33 L353.24,393.27 L353.72,393.22 L354.21,393.16 L354.69,393.10 L355.18,393.05 L355.66,392.99 L356.15,392.93 L356.63,392.88 L357.12,392.82 L357.61,392.76 L358.10,392.71 L358.59,392.65 L359.08,392.59 L359.57,392.54 L360.07,392.48 L360.56,392.43 L361.05,392.37 L361.55,392.31 L362.04,392.26 L362.54,392.20 L363.04,392.15 L363.53,392.09 L364.03,392.04 L364.53,391.98 L365.03,391.93 L365.53,391.87 L366.03,391.82 L366.53,391.76 L367.04,391.71 L367.54,391.65 L368.05,391.60 L368.55,391.55 L369.06,391.49 L369.56,391.44 L370.07,391.38 L370.58,391.33 L371.09,391.28 L371.60,391.22 L372.11,391.17 L372.62,391.11 L373.13,391.06 L373.64,391.01 L374.16,390.95 L374.67,390.90 L375.19,390.85 L375.70,390.79 L376.22,390.74 L376.73,390.69 L377.25,390.64 L377.77,390.58 L378.29,390.53 L378.81,390.48 L379.33,390.43 L379.85,390.37 L380.38,390.32 L380.90,390.27 L381.42,390.22 L381.95,390.16 L382.47,390.11 L383.00,390.06 L383.53,390.01 L384.06,389.96 L384.58,389.90 L385.11,389.85 L385.64,389.80 L386.17,389.75 L386.71,389.70 L387.24,389.65 L387.77,389.60 L388.30,389.54 L388.84,389.49 L389.37,389.44 L389.91,389.39 L390.45,389.34 L390.99,389.29 L391.52,389.24 L392.06,389.19 L392.60,389.14 L393.14,389.09 L393.69,389.04 L394.23,388.98 L394.77,388.93 L395.31,388.88 L395.86,388.83 L396.40,388.78 L396.95,388.73 L397.50,388.68 L398.04,388.63 L398.59,388.58 L399.14,388.53 L399.69,388.48 L400.24,388.43 L400.79,388.38 L401.35,388.33 L401.90,388.28 L402.45,388.23 L403.01,388.18 L403.56,388.14 L404.12,388.09 L404.67,388.04 L405.23,387.99 L405.79,387.94 L406.35,387.89 L406.91,387.84 L407.47,387.79 L408.03,387.74 L408.59,387.69 L409.16,387.64 L409.72,387.59 L410.28,387.55 L410.85,387.50 L411.42,387.45 L411.98,387.40 L412.55,387.35 L413.12,387.30 L413.69,387.25 L414.26,387.20 L414.83,387.16 L415.40,387.11 L415.97,387.06 L416.54,387.01 L417.12,386.96 L417.69,386.91 L418.27,386.87 L418.84,386.82 L419.42,386.77 L420.00,386.72 L420.57,386.67 L421.15,386.63 L421.73,386.58 L422.31,386.53 L422.89,386.48 L423.48,386.43 L424.06,386.39 L424.64,386.34 L425.23,386.29 L425.81,386.24 L426.40,386.20 L426.99,386.15 L427.57,386.10 L428.16,386.05 L428.75,386.01 L429.34,385.96 L429.93,385.91 L430.52,385.86 L431.11,385.82 L431.71,385.77 L432.30,385.72 L432.89,385.67 L433.49,385.63 L434.09,385.58 L434.68,385.53 L435.28,385.49 L435.88,385.44 L436.48,385.39 L437.08,385.35 L437.68,385.30 L438.28,385.25 L438.88,385.20 L439.48,385.16 L440.09,385.11 L440.69,385.06 L441.30,385.02 L441.90,384.97 L442.51,384.92 L443.12,384.88 L443.73,384.83 L444.34,384.78 L444.95,384.74 L445.56,384.69 L446.17,384.64 L446.78,384.60 L447.39,384.55 L448.01,384.51 L448.62,384.46 L449.24,384.41 L449.85,384.37 L450.47,384.32 L451.09,384.27 L451.71,384.23 L452.33,384.18 L452.95,384.13 L453.57,384.09 L454.19,384.04 L454.81,384.00 L455.43,383.95 L456.06,383.90 L456.68,383.86 L457.31,383.81 L457.93,383.77 L458.56,383.72 L459.19,383.67 L459.82,383.63 L460.45,383.58 L461.08,383.54 L461.71,383.49 L462.34,383.44 L462.97,383.40 L463.60,383.35 L464.24,383.31 L464.87,383.26 L465.51,383.22 L466.15,383.17 L466.78,383.12 L467.42,383.08 L468.06,383.03 L468.70,382.99 L469.34,382.94 L469.98,382.90 L470.62,382.85 L471.27,382.81 L471.91,382.76 L472.55,382.71 L473.20,382.67 L473.84,382.62 L474.49,382.58 L475.14,382.53 L475.79,382.49 L476.43,382.44 L477.08,382.40 L477.73,382.35 L478.39,382.31 L479.04,382.26 L479.69,382.22 L480.34,382.17 L481.00,382.12 L481.65,382.08 L482.31,382.03 L482.97,381.99 L483.62,381.94 L484.28,381.90 L484.94,381.85 L485.60,381.81 L486.26,381.76 L486.92,381.72 L487.59,381.67 L488.25,381.63 L488.91,381.58 L489.58,381.54 L490.24,381.49 L490.91,381.45 L491.58,381.40 L492.24,381.36 L492.91,381.31 L493.58,381.27 L494.25,381.22 L494.92,381.18 L495.60,381.14 L496.27,381.09 L496.94,381.05 L497.62,381.00 L498.29,380.96 L498.97,380.91 L499.64,380.87 L500.32,380.82 L501.00,380.78 L501.68,380.73 L502.36,380.69 L503.04,380.64 L503.72,380.60 L504.40,380.55 L505.08,380.51 L505.77,380.47 L506.45,380.42 L507.14,380.38 L507.82,380.33 L508.51,380.29 L509.20,380.24 L509.89,380.20 L510.57,380.15 L511.26,380.11 L511.96,380.07 L512.65,380.02 L513.34,379.98 L514.03,379.93 L514.73,379.89 L515.42,379.84 L516.12,379.80 L516.81,379.76 L517.51,379.71 L518.21,379.67 L518.91,379.62 L519.61,379.58 L520.31,379.54 L521.01,379.49 L521.71,379.45 L522.41,379.40 L523.11,379.36 L523.82,379.32 L524.52,379.27 L525.23,379.23 L525.94,379.18 L526.64,379.14 L527.35,379.10 L528.06,379.05 L528.77,379.01 L529.48,378.96 L530.19,378.92 L530.91,378.88 L531.62,378.83 L532.33,378.79 L533.05,378.75 L533.76,378.70 L534.48,378.66 L535.20,378.61 L535.91,378.57 L536.63,378.53 L537.35,378.48 L538.07,378.44 L538.79,378.40 L539.51,378.35 L540.24,378.31 L540.96,378.27 L541.68,378.22 L542.41,378.18 L543.13,378.14 L543.86,378.09 L544.59,378.05 L545.32,378.01 L546.05,377.96 L546.78,377.92 L547.51,377.88 L548.24,377.83 L548.97,377.79 L549.70,377.75 L550.44,377.70 L551.17,377.66 L551.91,377.62 L552.64,377.57 L553.38,377.53 L554.12,377.49 L554.86,377.44 L555.60,377.40 L556.34,377.36 L557.08,377.32 L557.82,377.27 L558.56,377.23 L559.30,377.19 L560.05,377.14 L560.79,377.10 L561.54,377.06 L562.29,377.02 L563.03,376.97 L563.78,376.93 L564.53,376.89 L565.28,376.84 L566.03,376.80 L566.78,376.76 L567.53,376.72 L568.29,376.67 L569.04,376.63 L569.80,376.59 L570.55,376.55 L571.31,376.50 L572.07,376.46 L572.82,376.42 L573.58,376.38 L574.34,376.33 L575.10,376.29 L575.86,376.25 L576.62,376.21 L577.39,376.17 L578.15,376.12 L578.91,376.08 L579.68,376.04 L580.45,376.00 L581.21,375.95 L581.98,375.91 L582.75,375.87 L583.52,375.83 L584.29,375.79 L585.06,375.74 L585.83,375.70 L586.60,375.66 L587.38,375.62 L588.15,375.58 L588.92,375.54 L589.70,375.49 L590.48,375.45 L591.25,375.41 L592.03,375.37 L592.81,375.33 L593.59,375.28 L594.37,375.24 L595.15,375.20 L595.93,375.16 L596.72,375.12 L597.50,375.08 L598.28,375.04 L599.07,374.99 L599.86,374.95 L600.64,374.91 L601.43,374.87 L602.22,374.83 L603.01,374.79 L603.80,374.75 L604.59,374.70 L605.38,374.66 L606.17,374.62 L606.97,374.58 L607.76,374.54 L608.56,374.50 L609.35,374.46 L610.15,374.42 L610.95,374.38 L611.75,374.34 L612.54,374.29 L613.34,374.25 L614.15,374.21 L614.95,374.17 L615.75,374.13 L616.55,374.09 L617.36,374.05 L618.16,374.01 L618.97,373.97 L619.77,373.93 L620.58,373.89 L621.39,373.85 L622.20,373.81 L623.01,373.77 L623.82,373.72 L624.63,373.68 L625.44,373.64 L626.25,373.60 L627.07,373.56 L627.88,373.52 L628.70,373.48 L629.51,373.44 L630.33,373.40 L631.15,373.36 L631.97,373.32 L632.79,373.28 L633.61,373.24 L634.43,373.20 L635.25,373.16 L636.07,373.12 L636.90,373.08 L637.72,373.04 L638.55,373.00 L639.37,372.96 L640.20,372.92 L641.03,372.88 L641.85,372.84 L642.68,372.80 L643.51,372.76 L644.35,372.72 L645.18,372.68 L646.01,372.64 L646.84,372.60 L647.68,372.57 L648.51,372.53 L649.35,372.49 L650.18,372.45 L651.02,372.41 L651.86,372.37 L652.70,372.33 L653.54,372.29 L654.38,372.25 L655.22,372.21 L656.06,372.17 L656.91,372.13 L657.75,372.09 L658.60,372.05 L659.44,372.02 L660.29,371.98 L661.13,371.94 L661.98,371.90 L662.83,371.86 L663.68,371.82 L664.53,371.78 L665.38,371.74 L666.24,371.70 L667.09,371.67 L667.94,371.63 L668.80,371.59 L669.65,371.55 L670.51,371.51 L671.37,371.47 L672.22,371.43 L673.08,371.39 L673.94,371.36 L674.80,371.32 L675.66,371.28 L676.53,371.24 L677.39,371.20 L678.25,371.16 L679.12,371.13 L679.98,371.09 L680.85,371.05 L681.72,371.01 L682.58,370.97 L683.45,370.93 L684.32,370.90 L685.19,370.86 L686.06,370.82 L686.94,370.78 L687.81,370.74 L688.68,370.71 L689.56,370.67 L690.43,370.63 L691.31,370.59 L692.18,370.55 L693.06,370.52 L693.94,370.48 L694.82,370.44 L695.70,370.40 L696.58,370.37 L697.46,370.33 L698.35,370.29 L699.23,370.25 L700.11,370.21 L701.00,370.18 L701.88,370.14 L702.77,370.10 L703.66,370.06 L704.55,370.03 L705.44,369.99 L706.33,369.95 L707.22,369.91 L708.11,369.88 L709.00,369.84 L709.90,369.80 L710.79,369.77 L711.68,369.73 L712.58,369.69 L713.48,369.65 L714.37,369.62 L715.27,369.58 L716.17,369.54 L717.07,369.50 L717.97,369.47 L718.87,369.43 L719.78,369.39 L720.68,369.36 L721.58,369.32 L722.49,369.28 L723.40,369.25 L724.30,369.21 L725.21,369.17 L726.12,369.13 L727.03,369.10 L727.94,369.06 L728.85,369.02 L729.76,368.99 L730.67,368.95 L731.59,368.91 L732.50,368.88 L733.41,368.84 L734.33,368.80 L735.25,368.77 L736.16,368.73 L737.08,368.69 L738.00,368.66 L738.92,368.62 L739.84,368.58 L740.76,368.55 L741.69,368.51 L742.61,368.47 L743.53,368.44 L744.46,368.40 L745.39,368.36 L746.31,368.33 L747.24,368.29 L748.17,368.25 L749.10,368.22 L750.03,368.18 L750.96,368.14 L751.89,368.11 L752.82,368.07 L753.75,368.03 L754.69,368.00 L755.62,367.96 L756.56,367.93 L757.50,367.89 L758.43,367.85 L759.37,367.82 L760.31,367.78 L761.25,367.74 L762.19,367.71 L763.13,367.67 L764.08,367.63 L765.02,367.60 L765.96,367.56 L766.91,367.53 L767.85,367.49 L768.80,367.45 L769.75,367.42 L770.70,367.38 L771.65,367.34 L772.60,367.31 L773.55,367.27 L774.50,367.24 L775.45,367.20 L776.40,367.16 L777.36,367.13 L778.31,367.09 L779.27,367.05 L780.23,367.02 L781.18,366.98 L782.14,366.95 L783.10,366.91 L784.06,366.87 L785.02,366.84 L785.98,366.80 L786.95,366.76 L787.91,366.73 L788.87,366.69 L789.84,366.66 L790.80,366.62 L791.77,366.58 L792.74,366.55 L793.71,366.51 L794.68,366.47 L795.65,366.44 L796.62,366.40 L797.59,366.36 L798.56,366.33 L799.53,366.29 L800.51,366.26 L801.48,366.22 L802.46,366.18 L803.44,366.15 L804.41,366.11 L805.39,366.07 L806.37,366.04" fill="none" stroke="#ff7f00" stroke-width="1.4" stroke-linejoin="round"/>
<g stroke="#505050" stroke-width="1" fill="none">
<path d="M27,521.40 H806"/>
<path d="M27.45,521.9 V40"/>
<path d="M27.50,521.40v-9.30M58.50,521.40v-5.60M89.50,521.40v-5.60M121.50,521.40v-5.60M152.50,521.40v-5.60M183.50,521.40v-9.30M214.50,521.40v-5.60M245.50,521.40v-5.60M276.50,521.40v-5.60M307.50,521.40v-5.60M338.50,521.40v-9.30M370.50,521.40v-5.60M401.50,521.40v-5.60M432.50,521.40v-5.60M463.50,521.40v-5.60M494.50,521.40v-9.30M525.50,521.40v-5.60M556.50,521.40v-5.60M587.50,521.40v-5.60M618.50,521.40v-5.60M650.50,521.40v-9.30M681.50,521.40v-5.60M712.50,521.40v-5.60M743.50,521.40v-5.60M774.50,521.40v-5.60M805.50,521.40v-9.30"/>
<path d="M27.45,521.50h9.30M27.45,504.50h5.60M27.45,487.50h5.60M27.45,469.50h5.60M27.45,452.50h9.30M27.45,435.50h5.60M27.45,418.50h5.60M27.45,401.50h5.60M27.45,384.50h9.30M27.45,366.50h5.60M27.45,349.50h5.60M27.45,332.50h5.60M27.45,315.50h9.30M27.45,298.50h5.60M27.45,281.50h5.60M27.45,263.50h5.60M27.45,246.50h9.30M27.45,229.50h5.60M27.45,212.50h5.60M27.45,195.50h5.60M27.45,177.50h9.30M27.45,160.50h5.60M27.45,143.50h5.60M27.45,126.50h5.60M27.45,109.50h9.30M27.45,92.50h5.60M27.45,74.50h5.60M27.45,57.50h5.60M27.45,40.50h9.30"/>
</g>
<path d="M649.2,143.8 H681.9" stroke="#000000" stroke-width="1.5"/>
<text x="698.45" y="150.6" font-size="20.5">M<tspan font-size="21.5" dx="0.81" dy="1.1">=</tspan><tspan dx="0.49" dy="-1.1">0.1</tspan></text>
<path d="M649.2,178.2 H681.9" stroke="#0000ff" stroke-width="1.5"/>
<text x="699.45" y="185.0" font-size="20.5">M<tspan font-size="21.5" dx="0.66" dy="1.1">=</tspan><tspan dx="0.84" dy="-1.1">0.25</tspan></text>
<path d="M649.2,212.6 H681.9" stroke="#00f200" stroke-width="1.5"/>
<text x="699.95" y="219.4" font-size="20.5">M<tspan font-size="21.5" dx="0.41" dy="1.1">=</tspan><tspan dx="1.29" dy="-1.1">0,5</tspan></text>
<path d="M649.2,247.0 H681.9" stroke="#ff8000" stroke-width="1.5"/>
<text x="698.65" y="253.8" font-size="20.5">M<tspan font-size="21.5" dx="0.61" dy="1.1">=</tspan><tspan dx="1.24" dy="-1.1">1</tspan></text>
</svg>
</body></html>
